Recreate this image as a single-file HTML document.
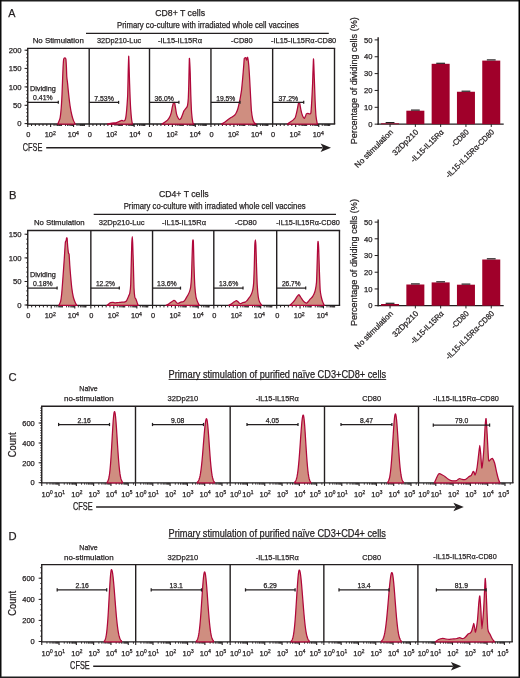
<!DOCTYPE html>
<html><head><meta charset="utf-8"><title>Figure</title>
<style>
html,body{margin:0;padding:0;background:#fff;}
body{width:520px;height:678px;overflow:hidden;}
svg{display:block;will-change:transform;}
text{font-family:"Liberation Sans", sans-serif;fill:#231f20;stroke:#231f20;stroke-width:0.25px;}
</style></head><body>
<svg width="520" height="678" viewBox="0 0 520 678">
<rect x="0" y="0" width="520" height="678" fill="#fff"/>
<line x1="0" y1="0.75" x2="520" y2="0.75" stroke="#1e1e1e" stroke-width="1.5"/>
<line x1="0.75" y1="0" x2="0.75" y2="678" stroke="#0c0c0c" stroke-width="1.5"/>
<line x1="519.25" y1="0" x2="519.25" y2="678" stroke="#000" stroke-width="1.5"/>
<line x1="0" y1="677.3" x2="520" y2="677.3" stroke="#1e1e1e" stroke-width="1.6"/>
<text x="8.3" y="17.3" font-size="11.2" textLength="7.2" lengthAdjust="spacingAndGlyphs">A</text>
<text x="155.3" y="16" font-size="9.6" textLength="49.7" lengthAdjust="spacingAndGlyphs">CD8+ T cells</text>
<text x="117" y="28.1" font-size="8.5" textLength="181.9" lengthAdjust="spacingAndGlyphs">Primary co-culture with irradiated whole cell vaccines</text>
<line x1="86" y1="33.4" x2="328.8" y2="33.4" stroke="#231f20" stroke-width="1.3"/>
<text x="32.7" y="43.2" font-size="8" textLength="51.1" lengthAdjust="spacingAndGlyphs">No Stimulation</text>
<text x="97" y="43.2" font-size="8" textLength="44.2" lengthAdjust="spacingAndGlyphs">32Dp210-Luc</text>
<text x="158" y="43.2" font-size="8" textLength="44" lengthAdjust="spacingAndGlyphs">-IL15-IL15R&#945;</text>
<text x="231" y="43.2" font-size="8" textLength="21.6" lengthAdjust="spacingAndGlyphs">-CD80</text>
<text x="271" y="43.2" font-size="8" textLength="65.2" lengthAdjust="spacingAndGlyphs">-IL15-IL15R&#945;-CD80</text>
<line x1="27.05" y1="48.4" x2="335.2" y2="48.4" stroke="#231f20" stroke-width="1.4"/>
<line x1="27.05" y1="124" x2="335.2" y2="124" stroke="#231f20" stroke-width="1.4"/>
<line x1="27.75" y1="48.4" x2="27.75" y2="124" stroke="#231f20" stroke-width="1.4"/>
<line x1="89.2" y1="48.4" x2="89.2" y2="124" stroke="#231f20" stroke-width="1.4"/>
<line x1="149.5" y1="48.4" x2="149.5" y2="124" stroke="#231f20" stroke-width="1.4"/>
<line x1="210.95" y1="48.4" x2="210.95" y2="124" stroke="#231f20" stroke-width="1.4"/>
<line x1="272.65" y1="48.4" x2="272.65" y2="124" stroke="#231f20" stroke-width="1.4"/>
<line x1="334.5" y1="48.4" x2="334.5" y2="124" stroke="#231f20" stroke-width="1.4"/>
<line x1="24.55" y1="123.6" x2="27.75" y2="123.6" stroke="#231f20" stroke-width="1"/>
<text x="21.55" y="126.35" font-size="7.7" text-anchor="end">0</text>
<line x1="24.55" y1="105.3" x2="27.75" y2="105.3" stroke="#231f20" stroke-width="1"/>
<text x="21.55" y="108.05" font-size="7.7" text-anchor="end">50</text>
<line x1="24.55" y1="86.9" x2="27.75" y2="86.9" stroke="#231f20" stroke-width="1"/>
<text x="21.55" y="89.65" font-size="7.7" text-anchor="end">100</text>
<line x1="24.55" y1="68.4" x2="27.75" y2="68.4" stroke="#231f20" stroke-width="1"/>
<text x="21.55" y="71.15" font-size="7.7" text-anchor="end">150</text>
<line x1="24.55" y1="50.2" x2="27.75" y2="50.2" stroke="#231f20" stroke-width="1"/>
<text x="21.55" y="52.95" font-size="7.7" text-anchor="end">200</text>
<line x1="26.15" y1="123.6" x2="27.75" y2="123.6" stroke="#231f20" stroke-width="0.8"/>
<line x1="26.15" y1="119.94" x2="27.75" y2="119.94" stroke="#231f20" stroke-width="0.8"/>
<line x1="26.15" y1="116.28" x2="27.75" y2="116.28" stroke="#231f20" stroke-width="0.8"/>
<line x1="26.15" y1="112.62" x2="27.75" y2="112.62" stroke="#231f20" stroke-width="0.8"/>
<line x1="26.15" y1="108.96" x2="27.75" y2="108.96" stroke="#231f20" stroke-width="0.8"/>
<line x1="26.15" y1="105.3" x2="27.75" y2="105.3" stroke="#231f20" stroke-width="0.8"/>
<line x1="26.15" y1="101.64" x2="27.75" y2="101.64" stroke="#231f20" stroke-width="0.8"/>
<line x1="26.15" y1="97.98" x2="27.75" y2="97.98" stroke="#231f20" stroke-width="0.8"/>
<line x1="26.15" y1="94.32" x2="27.75" y2="94.32" stroke="#231f20" stroke-width="0.8"/>
<line x1="26.15" y1="90.66" x2="27.75" y2="90.66" stroke="#231f20" stroke-width="0.8"/>
<line x1="26.15" y1="87" x2="27.75" y2="87" stroke="#231f20" stroke-width="0.8"/>
<line x1="26.15" y1="83.34" x2="27.75" y2="83.34" stroke="#231f20" stroke-width="0.8"/>
<line x1="26.15" y1="79.68" x2="27.75" y2="79.68" stroke="#231f20" stroke-width="0.8"/>
<line x1="26.15" y1="76.02" x2="27.75" y2="76.02" stroke="#231f20" stroke-width="0.8"/>
<line x1="26.15" y1="72.36" x2="27.75" y2="72.36" stroke="#231f20" stroke-width="0.8"/>
<line x1="26.15" y1="68.7" x2="27.75" y2="68.7" stroke="#231f20" stroke-width="0.8"/>
<line x1="26.15" y1="65.04" x2="27.75" y2="65.04" stroke="#231f20" stroke-width="0.8"/>
<line x1="26.15" y1="61.38" x2="27.75" y2="61.38" stroke="#231f20" stroke-width="0.8"/>
<line x1="26.15" y1="57.72" x2="27.75" y2="57.72" stroke="#231f20" stroke-width="0.8"/>
<line x1="26.15" y1="54.06" x2="27.75" y2="54.06" stroke="#231f20" stroke-width="0.8"/>
<line x1="26.15" y1="50.4" x2="27.75" y2="50.4" stroke="#231f20" stroke-width="0.8"/>
<line x1="27.75" y1="124" x2="27.75" y2="127" stroke="#231f20" stroke-width="1.1"/>
<line x1="50.61" y1="124" x2="50.61" y2="127" stroke="#231f20" stroke-width="1.1"/>
<line x1="73.56" y1="124" x2="73.56" y2="127" stroke="#231f20" stroke-width="1.1"/>
<line x1="31.56" y1="124" x2="31.56" y2="126" stroke="#231f20" stroke-width="1"/>
<line x1="35.37" y1="124" x2="35.37" y2="126" stroke="#231f20" stroke-width="1"/>
<line x1="39.18" y1="124" x2="39.18" y2="126" stroke="#231f20" stroke-width="1"/>
<line x1="42.99" y1="124" x2="42.99" y2="126" stroke="#231f20" stroke-width="1"/>
<line x1="46.8" y1="124" x2="46.8" y2="126" stroke="#231f20" stroke-width="1"/>
<line x1="54.06" y1="124" x2="54.06" y2="126" stroke="#231f20" stroke-width="0.9"/>
<line x1="56.08" y1="124" x2="56.08" y2="126" stroke="#231f20" stroke-width="0.9"/>
<line x1="57.52" y1="124" x2="57.52" y2="126" stroke="#231f20" stroke-width="0.9"/>
<line x1="58.63" y1="124" x2="58.63" y2="126" stroke="#231f20" stroke-width="0.9"/>
<line x1="59.54" y1="124" x2="59.54" y2="126" stroke="#231f20" stroke-width="0.9"/>
<line x1="60.31" y1="124" x2="60.31" y2="126" stroke="#231f20" stroke-width="0.9"/>
<line x1="60.97" y1="124" x2="60.97" y2="126" stroke="#231f20" stroke-width="0.9"/>
<line x1="61.56" y1="124" x2="61.56" y2="126" stroke="#231f20" stroke-width="0.9"/>
<line x1="65.54" y1="124" x2="65.54" y2="126" stroke="#231f20" stroke-width="0.9"/>
<line x1="67.56" y1="124" x2="67.56" y2="126" stroke="#231f20" stroke-width="0.9"/>
<line x1="68.99" y1="124" x2="68.99" y2="126" stroke="#231f20" stroke-width="0.9"/>
<line x1="70.11" y1="124" x2="70.11" y2="126" stroke="#231f20" stroke-width="0.9"/>
<line x1="71.02" y1="124" x2="71.02" y2="126" stroke="#231f20" stroke-width="0.9"/>
<line x1="71.78" y1="124" x2="71.78" y2="126" stroke="#231f20" stroke-width="0.9"/>
<line x1="72.45" y1="124" x2="72.45" y2="126" stroke="#231f20" stroke-width="0.9"/>
<line x1="73.04" y1="124" x2="73.04" y2="126" stroke="#231f20" stroke-width="0.9"/>
<line x1="77.02" y1="124" x2="77.02" y2="126" stroke="#231f20" stroke-width="0.9"/>
<line x1="79.04" y1="124" x2="79.04" y2="126" stroke="#231f20" stroke-width="0.9"/>
<line x1="80.47" y1="124" x2="80.47" y2="126" stroke="#231f20" stroke-width="0.9"/>
<line x1="81.58" y1="124" x2="81.58" y2="126" stroke="#231f20" stroke-width="0.9"/>
<line x1="82.49" y1="124" x2="82.49" y2="126" stroke="#231f20" stroke-width="0.9"/>
<line x1="83.26" y1="124" x2="83.26" y2="126" stroke="#231f20" stroke-width="0.9"/>
<line x1="83.93" y1="124" x2="83.93" y2="126" stroke="#231f20" stroke-width="0.9"/>
<line x1="84.51" y1="124" x2="84.51" y2="126" stroke="#231f20" stroke-width="0.9"/>
<text x="28.25" y="137.2" font-size="7.4" text-anchor="middle">0</text>
<text x="50.25" y="137.2" font-size="7.4" text-anchor="middle">10<tspan font-size="5.2" dy="-2.6">2</tspan></text>
<text x="73.35" y="137.2" font-size="7.4" text-anchor="middle">10<tspan font-size="5.2" dy="-2.6">4</tspan></text>
<line x1="89.2" y1="124" x2="89.2" y2="127" stroke="#231f20" stroke-width="1.1"/>
<line x1="111.63" y1="124" x2="111.63" y2="127" stroke="#231f20" stroke-width="1.1"/>
<line x1="134.15" y1="124" x2="134.15" y2="127" stroke="#231f20" stroke-width="1.1"/>
<line x1="92.94" y1="124" x2="92.94" y2="126" stroke="#231f20" stroke-width="1"/>
<line x1="96.68" y1="124" x2="96.68" y2="126" stroke="#231f20" stroke-width="1"/>
<line x1="100.41" y1="124" x2="100.41" y2="126" stroke="#231f20" stroke-width="1"/>
<line x1="104.15" y1="124" x2="104.15" y2="126" stroke="#231f20" stroke-width="1"/>
<line x1="107.89" y1="124" x2="107.89" y2="126" stroke="#231f20" stroke-width="1"/>
<line x1="115.02" y1="124" x2="115.02" y2="126" stroke="#231f20" stroke-width="0.9"/>
<line x1="117" y1="124" x2="117" y2="126" stroke="#231f20" stroke-width="0.9"/>
<line x1="118.41" y1="124" x2="118.41" y2="126" stroke="#231f20" stroke-width="0.9"/>
<line x1="119.5" y1="124" x2="119.5" y2="126" stroke="#231f20" stroke-width="0.9"/>
<line x1="120.39" y1="124" x2="120.39" y2="126" stroke="#231f20" stroke-width="0.9"/>
<line x1="121.15" y1="124" x2="121.15" y2="126" stroke="#231f20" stroke-width="0.9"/>
<line x1="121.8" y1="124" x2="121.8" y2="126" stroke="#231f20" stroke-width="0.9"/>
<line x1="122.38" y1="124" x2="122.38" y2="126" stroke="#231f20" stroke-width="0.9"/>
<line x1="126.28" y1="124" x2="126.28" y2="126" stroke="#231f20" stroke-width="0.9"/>
<line x1="128.27" y1="124" x2="128.27" y2="126" stroke="#231f20" stroke-width="0.9"/>
<line x1="129.67" y1="124" x2="129.67" y2="126" stroke="#231f20" stroke-width="0.9"/>
<line x1="130.76" y1="124" x2="130.76" y2="126" stroke="#231f20" stroke-width="0.9"/>
<line x1="131.66" y1="124" x2="131.66" y2="126" stroke="#231f20" stroke-width="0.9"/>
<line x1="132.41" y1="124" x2="132.41" y2="126" stroke="#231f20" stroke-width="0.9"/>
<line x1="133.06" y1="124" x2="133.06" y2="126" stroke="#231f20" stroke-width="0.9"/>
<line x1="133.64" y1="124" x2="133.64" y2="126" stroke="#231f20" stroke-width="0.9"/>
<line x1="137.55" y1="124" x2="137.55" y2="126" stroke="#231f20" stroke-width="0.9"/>
<line x1="139.53" y1="124" x2="139.53" y2="126" stroke="#231f20" stroke-width="0.9"/>
<line x1="140.94" y1="124" x2="140.94" y2="126" stroke="#231f20" stroke-width="0.9"/>
<line x1="142.03" y1="124" x2="142.03" y2="126" stroke="#231f20" stroke-width="0.9"/>
<line x1="142.92" y1="124" x2="142.92" y2="126" stroke="#231f20" stroke-width="0.9"/>
<line x1="143.67" y1="124" x2="143.67" y2="126" stroke="#231f20" stroke-width="0.9"/>
<line x1="144.33" y1="124" x2="144.33" y2="126" stroke="#231f20" stroke-width="0.9"/>
<line x1="144.9" y1="124" x2="144.9" y2="126" stroke="#231f20" stroke-width="0.9"/>
<text x="89.7" y="137.2" font-size="7.4" text-anchor="middle">0</text>
<text x="111.7" y="137.2" font-size="7.4" text-anchor="middle">10<tspan font-size="5.2" dy="-2.6">2</tspan></text>
<text x="134.8" y="137.2" font-size="7.4" text-anchor="middle">10<tspan font-size="5.2" dy="-2.6">4</tspan></text>
<line x1="149.5" y1="124" x2="149.5" y2="127" stroke="#231f20" stroke-width="1.1"/>
<line x1="172.36" y1="124" x2="172.36" y2="127" stroke="#231f20" stroke-width="1.1"/>
<line x1="195.31" y1="124" x2="195.31" y2="127" stroke="#231f20" stroke-width="1.1"/>
<line x1="153.31" y1="124" x2="153.31" y2="126" stroke="#231f20" stroke-width="1"/>
<line x1="157.12" y1="124" x2="157.12" y2="126" stroke="#231f20" stroke-width="1"/>
<line x1="160.93" y1="124" x2="160.93" y2="126" stroke="#231f20" stroke-width="1"/>
<line x1="164.74" y1="124" x2="164.74" y2="126" stroke="#231f20" stroke-width="1"/>
<line x1="168.55" y1="124" x2="168.55" y2="126" stroke="#231f20" stroke-width="1"/>
<line x1="175.81" y1="124" x2="175.81" y2="126" stroke="#231f20" stroke-width="0.9"/>
<line x1="177.83" y1="124" x2="177.83" y2="126" stroke="#231f20" stroke-width="0.9"/>
<line x1="179.27" y1="124" x2="179.27" y2="126" stroke="#231f20" stroke-width="0.9"/>
<line x1="180.38" y1="124" x2="180.38" y2="126" stroke="#231f20" stroke-width="0.9"/>
<line x1="181.29" y1="124" x2="181.29" y2="126" stroke="#231f20" stroke-width="0.9"/>
<line x1="182.06" y1="124" x2="182.06" y2="126" stroke="#231f20" stroke-width="0.9"/>
<line x1="182.72" y1="124" x2="182.72" y2="126" stroke="#231f20" stroke-width="0.9"/>
<line x1="183.31" y1="124" x2="183.31" y2="126" stroke="#231f20" stroke-width="0.9"/>
<line x1="187.29" y1="124" x2="187.29" y2="126" stroke="#231f20" stroke-width="0.9"/>
<line x1="189.31" y1="124" x2="189.31" y2="126" stroke="#231f20" stroke-width="0.9"/>
<line x1="190.74" y1="124" x2="190.74" y2="126" stroke="#231f20" stroke-width="0.9"/>
<line x1="191.86" y1="124" x2="191.86" y2="126" stroke="#231f20" stroke-width="0.9"/>
<line x1="192.77" y1="124" x2="192.77" y2="126" stroke="#231f20" stroke-width="0.9"/>
<line x1="193.53" y1="124" x2="193.53" y2="126" stroke="#231f20" stroke-width="0.9"/>
<line x1="194.2" y1="124" x2="194.2" y2="126" stroke="#231f20" stroke-width="0.9"/>
<line x1="194.79" y1="124" x2="194.79" y2="126" stroke="#231f20" stroke-width="0.9"/>
<line x1="198.77" y1="124" x2="198.77" y2="126" stroke="#231f20" stroke-width="0.9"/>
<line x1="200.79" y1="124" x2="200.79" y2="126" stroke="#231f20" stroke-width="0.9"/>
<line x1="202.22" y1="124" x2="202.22" y2="126" stroke="#231f20" stroke-width="0.9"/>
<line x1="203.33" y1="124" x2="203.33" y2="126" stroke="#231f20" stroke-width="0.9"/>
<line x1="204.24" y1="124" x2="204.24" y2="126" stroke="#231f20" stroke-width="0.9"/>
<line x1="205.01" y1="124" x2="205.01" y2="126" stroke="#231f20" stroke-width="0.9"/>
<line x1="205.68" y1="124" x2="205.68" y2="126" stroke="#231f20" stroke-width="0.9"/>
<line x1="206.26" y1="124" x2="206.26" y2="126" stroke="#231f20" stroke-width="0.9"/>
<text x="150" y="137.2" font-size="7.4" text-anchor="middle">0</text>
<text x="172" y="137.2" font-size="7.4" text-anchor="middle">10<tspan font-size="5.2" dy="-2.6">2</tspan></text>
<text x="195.1" y="137.2" font-size="7.4" text-anchor="middle">10<tspan font-size="5.2" dy="-2.6">4</tspan></text>
<line x1="210.95" y1="124" x2="210.95" y2="127" stroke="#231f20" stroke-width="1.1"/>
<line x1="233.9" y1="124" x2="233.9" y2="127" stroke="#231f20" stroke-width="1.1"/>
<line x1="256.95" y1="124" x2="256.95" y2="127" stroke="#231f20" stroke-width="1.1"/>
<line x1="214.77" y1="124" x2="214.77" y2="126" stroke="#231f20" stroke-width="1"/>
<line x1="218.6" y1="124" x2="218.6" y2="126" stroke="#231f20" stroke-width="1"/>
<line x1="222.42" y1="124" x2="222.42" y2="126" stroke="#231f20" stroke-width="1"/>
<line x1="226.25" y1="124" x2="226.25" y2="126" stroke="#231f20" stroke-width="1"/>
<line x1="230.07" y1="124" x2="230.07" y2="126" stroke="#231f20" stroke-width="1"/>
<line x1="237.37" y1="124" x2="237.37" y2="126" stroke="#231f20" stroke-width="0.9"/>
<line x1="239.4" y1="124" x2="239.4" y2="126" stroke="#231f20" stroke-width="0.9"/>
<line x1="240.84" y1="124" x2="240.84" y2="126" stroke="#231f20" stroke-width="0.9"/>
<line x1="241.95" y1="124" x2="241.95" y2="126" stroke="#231f20" stroke-width="0.9"/>
<line x1="242.87" y1="124" x2="242.87" y2="126" stroke="#231f20" stroke-width="0.9"/>
<line x1="243.64" y1="124" x2="243.64" y2="126" stroke="#231f20" stroke-width="0.9"/>
<line x1="244.31" y1="124" x2="244.31" y2="126" stroke="#231f20" stroke-width="0.9"/>
<line x1="244.9" y1="124" x2="244.9" y2="126" stroke="#231f20" stroke-width="0.9"/>
<line x1="248.89" y1="124" x2="248.89" y2="126" stroke="#231f20" stroke-width="0.9"/>
<line x1="250.92" y1="124" x2="250.92" y2="126" stroke="#231f20" stroke-width="0.9"/>
<line x1="252.36" y1="124" x2="252.36" y2="126" stroke="#231f20" stroke-width="0.9"/>
<line x1="253.48" y1="124" x2="253.48" y2="126" stroke="#231f20" stroke-width="0.9"/>
<line x1="254.39" y1="124" x2="254.39" y2="126" stroke="#231f20" stroke-width="0.9"/>
<line x1="255.16" y1="124" x2="255.16" y2="126" stroke="#231f20" stroke-width="0.9"/>
<line x1="255.83" y1="124" x2="255.83" y2="126" stroke="#231f20" stroke-width="0.9"/>
<line x1="256.42" y1="124" x2="256.42" y2="126" stroke="#231f20" stroke-width="0.9"/>
<line x1="260.42" y1="124" x2="260.42" y2="126" stroke="#231f20" stroke-width="0.9"/>
<line x1="262.45" y1="124" x2="262.45" y2="126" stroke="#231f20" stroke-width="0.9"/>
<line x1="263.89" y1="124" x2="263.89" y2="126" stroke="#231f20" stroke-width="0.9"/>
<line x1="265" y1="124" x2="265" y2="126" stroke="#231f20" stroke-width="0.9"/>
<line x1="265.92" y1="124" x2="265.92" y2="126" stroke="#231f20" stroke-width="0.9"/>
<line x1="266.69" y1="124" x2="266.69" y2="126" stroke="#231f20" stroke-width="0.9"/>
<line x1="267.36" y1="124" x2="267.36" y2="126" stroke="#231f20" stroke-width="0.9"/>
<line x1="267.95" y1="124" x2="267.95" y2="126" stroke="#231f20" stroke-width="0.9"/>
<text x="211.45" y="137.2" font-size="7.4" text-anchor="middle">0</text>
<text x="233.45" y="137.2" font-size="7.4" text-anchor="middle">10<tspan font-size="5.2" dy="-2.6">2</tspan></text>
<text x="256.55" y="137.2" font-size="7.4" text-anchor="middle">10<tspan font-size="5.2" dy="-2.6">4</tspan></text>
<line x1="272.65" y1="124" x2="272.65" y2="127" stroke="#231f20" stroke-width="1.1"/>
<line x1="295.65" y1="124" x2="295.65" y2="127" stroke="#231f20" stroke-width="1.1"/>
<line x1="318.76" y1="124" x2="318.76" y2="127" stroke="#231f20" stroke-width="1.1"/>
<line x1="276.48" y1="124" x2="276.48" y2="126" stroke="#231f20" stroke-width="1"/>
<line x1="280.32" y1="124" x2="280.32" y2="126" stroke="#231f20" stroke-width="1"/>
<line x1="284.15" y1="124" x2="284.15" y2="126" stroke="#231f20" stroke-width="1"/>
<line x1="287.99" y1="124" x2="287.99" y2="126" stroke="#231f20" stroke-width="1"/>
<line x1="291.82" y1="124" x2="291.82" y2="126" stroke="#231f20" stroke-width="1"/>
<line x1="299.13" y1="124" x2="299.13" y2="126" stroke="#231f20" stroke-width="0.9"/>
<line x1="301.17" y1="124" x2="301.17" y2="126" stroke="#231f20" stroke-width="0.9"/>
<line x1="302.61" y1="124" x2="302.61" y2="126" stroke="#231f20" stroke-width="0.9"/>
<line x1="303.73" y1="124" x2="303.73" y2="126" stroke="#231f20" stroke-width="0.9"/>
<line x1="304.64" y1="124" x2="304.64" y2="126" stroke="#231f20" stroke-width="0.9"/>
<line x1="305.42" y1="124" x2="305.42" y2="126" stroke="#231f20" stroke-width="0.9"/>
<line x1="306.09" y1="124" x2="306.09" y2="126" stroke="#231f20" stroke-width="0.9"/>
<line x1="306.68" y1="124" x2="306.68" y2="126" stroke="#231f20" stroke-width="0.9"/>
<line x1="310.69" y1="124" x2="310.69" y2="126" stroke="#231f20" stroke-width="0.9"/>
<line x1="312.72" y1="124" x2="312.72" y2="126" stroke="#231f20" stroke-width="0.9"/>
<line x1="314.16" y1="124" x2="314.16" y2="126" stroke="#231f20" stroke-width="0.9"/>
<line x1="315.28" y1="124" x2="315.28" y2="126" stroke="#231f20" stroke-width="0.9"/>
<line x1="316.2" y1="124" x2="316.2" y2="126" stroke="#231f20" stroke-width="0.9"/>
<line x1="316.97" y1="124" x2="316.97" y2="126" stroke="#231f20" stroke-width="0.9"/>
<line x1="317.64" y1="124" x2="317.64" y2="126" stroke="#231f20" stroke-width="0.9"/>
<line x1="318.23" y1="124" x2="318.23" y2="126" stroke="#231f20" stroke-width="0.9"/>
<line x1="322.24" y1="124" x2="322.24" y2="126" stroke="#231f20" stroke-width="0.9"/>
<line x1="324.27" y1="124" x2="324.27" y2="126" stroke="#231f20" stroke-width="0.9"/>
<line x1="325.72" y1="124" x2="325.72" y2="126" stroke="#231f20" stroke-width="0.9"/>
<line x1="326.84" y1="124" x2="326.84" y2="126" stroke="#231f20" stroke-width="0.9"/>
<line x1="327.75" y1="124" x2="327.75" y2="126" stroke="#231f20" stroke-width="0.9"/>
<line x1="328.52" y1="124" x2="328.52" y2="126" stroke="#231f20" stroke-width="0.9"/>
<line x1="329.19" y1="124" x2="329.19" y2="126" stroke="#231f20" stroke-width="0.9"/>
<line x1="329.78" y1="124" x2="329.78" y2="126" stroke="#231f20" stroke-width="0.9"/>
<text x="273.15" y="137.2" font-size="7.4" text-anchor="middle">0</text>
<text x="295.15" y="137.2" font-size="7.4" text-anchor="middle">10<tspan font-size="5.2" dy="-2.6">2</tspan></text>
<text x="318.25" y="137.2" font-size="7.4" text-anchor="middle">10<tspan font-size="5.2" dy="-2.6">4</tspan></text>
<path d="M57.8,124 L57.8,124 C58.02,123.44 59.66,119.97 60,118.4 C60.34,116.83 61,110.66 61.2,108.3 C61.4,105.94 61.86,97.72 62,94.8 C62.14,91.88 62.49,81.9 62.6,79.1 C62.71,76.3 62.99,68.81 63.1,66.8 C63.21,64.79 63.52,59.9 63.7,59 C63.88,58.1 64.68,57.8 64.9,57.8 C65.12,57.8 65.75,58.1 65.9,59 C66.05,59.9 66.31,65.01 66.4,66.8 C66.49,68.59 66.68,75.22 66.8,76.9 C66.92,78.58 67.41,81.81 67.6,83.6 C67.79,85.39 68.45,92.56 68.7,94.8 C68.95,97.04 69.79,103.98 70.1,106 C70.41,108.02 71.46,113.54 71.8,115 C72.14,116.46 73.16,119.7 73.5,120.6 C73.84,121.5 75.03,123.66 75.2,124 L75.2,124 Z" fill="#cf8e80" stroke="#b0073a" stroke-width="1.25" stroke-linejoin="round"/>
<path d="M107.4,124 L107.4,124 C107.86,123.9 111.24,123.11 112,123 C112.76,122.89 114.48,122.97 115,122.9 C115.52,122.83 116.7,122.47 117.2,122.3 C117.7,122.13 119.55,121.39 120,121.2 C120.45,121.01 121.35,120.42 121.7,120.4 C122.05,120.38 123.16,121.04 123.5,121 C123.84,120.96 124.85,120.49 125.1,120 C125.35,119.51 125.83,117.27 126,116.1 C126.17,114.93 126.63,110.43 126.8,108.3 C126.97,106.17 127.56,98.43 127.7,94.8 C127.84,91.17 128.1,75.86 128.2,72 C128.3,68.14 128.6,56.4 128.7,56.2 C128.8,56 129.11,67.26 129.2,70 C129.29,72.74 129.5,80.6 129.6,83.6 C129.7,86.6 130.09,97.42 130.2,100 C130.31,102.58 130.56,107.45 130.7,109.4 C130.84,111.35 131.43,118.04 131.6,119.5 C131.77,120.96 132.32,123.55 132.4,124 L132.4,124 Z" fill="#cf8e80" stroke="#b0073a" stroke-width="1.25" stroke-linejoin="round"/>
<path d="M161.9,124 L161.9,124 C162.18,123.83 164.14,122.69 164.7,122.3 C165.26,121.91 166.99,120.66 167.5,120.1 C168.01,119.54 169.43,117.43 169.8,116.7 C170.17,115.97 170.95,113.75 171.2,112.8 C171.45,111.85 172.07,108.21 172.3,107.2 C172.53,106.19 173.27,103.15 173.5,102.7 C173.73,102.25 174.41,102.25 174.6,102.7 C174.79,103.15 175.21,106.08 175.4,107.2 C175.59,108.32 176.24,112.84 176.5,113.9 C176.76,114.96 177.7,117.24 178,117.8 C178.3,118.36 179.2,119.44 179.5,119.5 C179.8,119.56 180.71,118.85 181,118.4 C181.29,117.95 182.12,115.73 182.4,115 C182.68,114.27 183.49,111.71 183.8,111.1 C184.11,110.49 185.14,109.41 185.5,108.9 C185.86,108.39 187.12,107.07 187.4,106 C187.68,104.93 188.16,100.44 188.3,98.2 C188.44,95.96 188.69,87.58 188.8,83.6 C188.91,79.62 189.26,59.52 189.4,58.4 C189.54,57.28 190.06,68.76 190.2,72.4 C190.34,76.04 190.66,90.76 190.8,94.8 C190.94,98.84 191.4,110.05 191.6,112.8 C191.8,115.55 192.57,121.18 192.8,122.3 C193.03,123.42 193.79,123.83 193.9,124 L193.9,124 Z" fill="#cf8e80" stroke="#b0073a" stroke-width="1.25" stroke-linejoin="round"/>
<path d="M221.4,124 L221.4,124 C221.73,123.83 224.03,122.75 224.7,122.3 C225.37,121.85 227.42,120 228.1,119.5 C228.78,119 230.83,117.75 231.5,117.3 C232.17,116.85 234.3,115.51 234.8,115 C235.3,114.49 236.18,112.87 236.5,112.2 C236.82,111.53 237.72,109.25 238,108.3 C238.28,107.35 239.06,103.82 239.3,102.7 C239.54,101.58 240.18,98.33 240.4,97.1 C240.62,95.87 241.27,92.31 241.5,90.4 C241.73,88.49 242.47,80.58 242.7,78 C242.93,75.42 243.64,66.56 243.8,64.6 C243.96,62.64 244.1,59.08 244.3,58.4 C244.5,57.72 245.57,57.63 245.8,57.8 C246.03,57.97 246.44,60.15 246.6,60.1 C246.76,60.05 247.26,57.41 247.4,57.3 C247.54,57.19 247.86,58.16 248,59 C248.14,59.84 248.64,63.8 248.8,65.7 C248.96,67.6 249.43,75.09 249.6,78 C249.77,80.91 250.32,91.55 250.5,94.8 C250.68,98.05 251.17,108.03 251.4,110.5 C251.63,112.97 252.5,118.26 252.8,119.5 C253.1,120.74 254.07,122.45 254.4,122.9 C254.73,123.35 255.93,123.89 256.1,124 L256.1,124 Z" fill="#cf8e80" stroke="#b0073a" stroke-width="1.25" stroke-linejoin="round"/>
<path d="M287.4,124 L287.4,124 C287.73,123.77 290.14,122.09 290.7,121.7 C291.26,121.31 292.55,120.49 293,120.1 C293.45,119.71 294.87,118.42 295.2,117.8 C295.53,117.18 296.07,114.85 296.3,113.9 C296.53,112.95 297.27,109.42 297.5,108.3 C297.73,107.18 298.38,103.2 298.6,102.7 C298.82,102.2 299.48,102.63 299.7,103.3 C299.92,103.97 300.58,108.34 300.8,109.4 C301.02,110.46 301.65,113.11 301.9,113.9 C302.15,114.69 303.05,116.85 303.3,117.3 C303.55,117.75 304.18,118.52 304.4,118.4 C304.62,118.28 305.3,116.55 305.5,116.1 C305.7,115.65 306.17,114.18 306.4,113.9 C306.63,113.62 307.48,113.3 307.8,113.3 C308.12,113.3 309.29,113.95 309.6,113.9 C309.91,113.85 310.68,114.15 310.9,112.8 C311.12,111.45 311.63,103.32 311.8,100.4 C311.97,97.48 312.43,87.74 312.6,83.6 C312.77,79.46 313.33,59.56 313.5,59 C313.67,58.44 314.14,73.86 314.3,78 C314.46,82.14 314.93,96.59 315.1,100.4 C315.27,104.21 315.8,113.85 316,116.1 C316.2,118.35 316.94,122.11 317.1,122.9 C317.26,123.69 317.55,123.89 317.6,124 L317.6,124 Z" fill="#cf8e80" stroke="#b0073a" stroke-width="1.25" stroke-linejoin="round"/>
<text x="42.85" y="91.3" font-size="7.4" text-anchor="middle" textLength="25.9" lengthAdjust="spacingAndGlyphs">Dividing</text>
<text x="42.9" y="100.4" font-size="7.5" text-anchor="middle" textLength="19.6" lengthAdjust="spacingAndGlyphs">0.41%</text>
<line x1="27.75" y1="102.35" x2="58.3" y2="102.35" stroke="#231f20" stroke-width="1.25"/>
<line x1="58.3" y1="100.85" x2="58.3" y2="103.85" stroke="#231f20" stroke-width="1.25"/>
<line x1="89.2" y1="102.35" x2="118.6" y2="102.35" stroke="#231f20" stroke-width="1.25"/>
<line x1="118.6" y1="100.85" x2="118.6" y2="103.85" stroke="#231f20" stroke-width="1.25"/>
<line x1="149.5" y1="102.35" x2="178.9" y2="102.35" stroke="#231f20" stroke-width="1.25"/>
<line x1="178.9" y1="100.85" x2="178.9" y2="103.85" stroke="#231f20" stroke-width="1.25"/>
<line x1="210.95" y1="102.35" x2="240" y2="102.35" stroke="#231f20" stroke-width="1.25"/>
<line x1="240" y1="100.85" x2="240" y2="103.85" stroke="#231f20" stroke-width="1.25"/>
<line x1="272.65" y1="102.35" x2="303.7" y2="102.35" stroke="#231f20" stroke-width="1.25"/>
<line x1="303.7" y1="100.85" x2="303.7" y2="103.85" stroke="#231f20" stroke-width="1.25"/>
<text x="94.2" y="100.6" font-size="7.5" textLength="19.7" lengthAdjust="spacingAndGlyphs">7.53%</text>
<text x="154.5" y="100.6" font-size="7.5" textLength="19.4" lengthAdjust="spacingAndGlyphs">36.0%</text>
<text x="216.2" y="100.6" font-size="7.5" textLength="19.1" lengthAdjust="spacingAndGlyphs">19.5%</text>
<text x="278.5" y="100.6" font-size="7.5" textLength="19.7" lengthAdjust="spacingAndGlyphs">37.2%</text>
<text x="22.8" y="151" font-size="10.3" textLength="19.6" lengthAdjust="spacingAndGlyphs">CFSE</text>
<line x1="46.2" y1="147.8" x2="322.6" y2="147.8" stroke="#231f20" stroke-width="1.5"/>
<path d="M331,147.8 L320.6,143.6 L323,147.8 L320.6,152 Z" fill="#231f20"/>
<text x="9" y="198.7" font-size="11.2">B</text>
<text x="158.9" y="197.2" font-size="9.6" textLength="49.8" lengthAdjust="spacingAndGlyphs">CD4+ T cells</text>
<text x="123.7" y="208.9" font-size="8.5" textLength="181.9" lengthAdjust="spacingAndGlyphs">Primary co-culture with irradiated whole cell vaccines</text>
<line x1="93.7" y1="214.3" x2="336" y2="214.3" stroke="#231f20" stroke-width="1.3"/>
<text x="33.9" y="225.3" font-size="8" textLength="50.7" lengthAdjust="spacingAndGlyphs">No Stimulation</text>
<text x="98.7" y="225.3" font-size="8" textLength="46" lengthAdjust="spacingAndGlyphs">32Dp210-Luc</text>
<text x="162" y="225.3" font-size="8" textLength="44" lengthAdjust="spacingAndGlyphs">-IL15-IL15R&#945;</text>
<text x="234.7" y="225.3" font-size="8" textLength="22.1" lengthAdjust="spacingAndGlyphs">-CD80</text>
<text x="276.2" y="225.3" font-size="8" textLength="63.7" lengthAdjust="spacingAndGlyphs">-IL15-IL15R&#945;-CD80</text>
<line x1="27.05" y1="230.5" x2="340.15" y2="230.5" stroke="#231f20" stroke-width="1.4"/>
<line x1="27.05" y1="305.4" x2="340.15" y2="305.4" stroke="#231f20" stroke-width="1.4"/>
<line x1="27.75" y1="230.5" x2="27.75" y2="305.4" stroke="#231f20" stroke-width="1.4"/>
<line x1="90.85" y1="230.5" x2="90.85" y2="305.4" stroke="#231f20" stroke-width="1.4"/>
<line x1="152.55" y1="230.5" x2="152.55" y2="305.4" stroke="#231f20" stroke-width="1.4"/>
<line x1="213.8" y1="230.5" x2="213.8" y2="305.4" stroke="#231f20" stroke-width="1.4"/>
<line x1="276.7" y1="230.5" x2="276.7" y2="305.4" stroke="#231f20" stroke-width="1.4"/>
<line x1="339.45" y1="230.5" x2="339.45" y2="305.4" stroke="#231f20" stroke-width="1.4"/>
<line x1="24.55" y1="305" x2="27.75" y2="305" stroke="#231f20" stroke-width="1"/>
<text x="21.55" y="307.75" font-size="7.7" text-anchor="end">0</text>
<line x1="24.55" y1="281.5" x2="27.75" y2="281.5" stroke="#231f20" stroke-width="1"/>
<text x="21.55" y="284.25" font-size="7.7" text-anchor="end">50</text>
<line x1="24.55" y1="257.9" x2="27.75" y2="257.9" stroke="#231f20" stroke-width="1"/>
<text x="21.55" y="260.65" font-size="7.7" text-anchor="end">100</text>
<line x1="24.55" y1="234.2" x2="27.75" y2="234.2" stroke="#231f20" stroke-width="1"/>
<text x="21.55" y="236.95" font-size="7.7" text-anchor="end">150</text>
<line x1="26.15" y1="305" x2="27.75" y2="305" stroke="#231f20" stroke-width="0.8"/>
<line x1="26.15" y1="300.3" x2="27.75" y2="300.3" stroke="#231f20" stroke-width="0.8"/>
<line x1="26.15" y1="295.6" x2="27.75" y2="295.6" stroke="#231f20" stroke-width="0.8"/>
<line x1="26.15" y1="290.9" x2="27.75" y2="290.9" stroke="#231f20" stroke-width="0.8"/>
<line x1="26.15" y1="286.2" x2="27.75" y2="286.2" stroke="#231f20" stroke-width="0.8"/>
<line x1="26.15" y1="281.5" x2="27.75" y2="281.5" stroke="#231f20" stroke-width="0.8"/>
<line x1="26.15" y1="276.8" x2="27.75" y2="276.8" stroke="#231f20" stroke-width="0.8"/>
<line x1="26.15" y1="272.1" x2="27.75" y2="272.1" stroke="#231f20" stroke-width="0.8"/>
<line x1="26.15" y1="267.4" x2="27.75" y2="267.4" stroke="#231f20" stroke-width="0.8"/>
<line x1="26.15" y1="262.7" x2="27.75" y2="262.7" stroke="#231f20" stroke-width="0.8"/>
<line x1="26.15" y1="258" x2="27.75" y2="258" stroke="#231f20" stroke-width="0.8"/>
<line x1="26.15" y1="253.3" x2="27.75" y2="253.3" stroke="#231f20" stroke-width="0.8"/>
<line x1="26.15" y1="248.6" x2="27.75" y2="248.6" stroke="#231f20" stroke-width="0.8"/>
<line x1="26.15" y1="243.9" x2="27.75" y2="243.9" stroke="#231f20" stroke-width="0.8"/>
<line x1="26.15" y1="239.2" x2="27.75" y2="239.2" stroke="#231f20" stroke-width="0.8"/>
<line x1="26.15" y1="234.5" x2="27.75" y2="234.5" stroke="#231f20" stroke-width="0.8"/>
<line x1="27.75" y1="305.4" x2="27.75" y2="308.4" stroke="#231f20" stroke-width="1.1"/>
<line x1="51.22" y1="305.4" x2="51.22" y2="308.4" stroke="#231f20" stroke-width="1.1"/>
<line x1="74.79" y1="305.4" x2="74.79" y2="308.4" stroke="#231f20" stroke-width="1.1"/>
<line x1="31.66" y1="305.4" x2="31.66" y2="307.4" stroke="#231f20" stroke-width="1"/>
<line x1="35.57" y1="305.4" x2="35.57" y2="307.4" stroke="#231f20" stroke-width="1"/>
<line x1="39.48" y1="305.4" x2="39.48" y2="307.4" stroke="#231f20" stroke-width="1"/>
<line x1="43.4" y1="305.4" x2="43.4" y2="307.4" stroke="#231f20" stroke-width="1"/>
<line x1="47.31" y1="305.4" x2="47.31" y2="307.4" stroke="#231f20" stroke-width="1"/>
<line x1="54.77" y1="305.4" x2="54.77" y2="307.4" stroke="#231f20" stroke-width="0.9"/>
<line x1="56.84" y1="305.4" x2="56.84" y2="307.4" stroke="#231f20" stroke-width="0.9"/>
<line x1="58.32" y1="305.4" x2="58.32" y2="307.4" stroke="#231f20" stroke-width="0.9"/>
<line x1="59.46" y1="305.4" x2="59.46" y2="307.4" stroke="#231f20" stroke-width="0.9"/>
<line x1="60.39" y1="305.4" x2="60.39" y2="307.4" stroke="#231f20" stroke-width="0.9"/>
<line x1="61.18" y1="305.4" x2="61.18" y2="307.4" stroke="#231f20" stroke-width="0.9"/>
<line x1="61.86" y1="305.4" x2="61.86" y2="307.4" stroke="#231f20" stroke-width="0.9"/>
<line x1="62.47" y1="305.4" x2="62.47" y2="307.4" stroke="#231f20" stroke-width="0.9"/>
<line x1="66.55" y1="305.4" x2="66.55" y2="307.4" stroke="#231f20" stroke-width="0.9"/>
<line x1="68.63" y1="305.4" x2="68.63" y2="307.4" stroke="#231f20" stroke-width="0.9"/>
<line x1="70.1" y1="305.4" x2="70.1" y2="307.4" stroke="#231f20" stroke-width="0.9"/>
<line x1="71.24" y1="305.4" x2="71.24" y2="307.4" stroke="#231f20" stroke-width="0.9"/>
<line x1="72.18" y1="305.4" x2="72.18" y2="307.4" stroke="#231f20" stroke-width="0.9"/>
<line x1="72.97" y1="305.4" x2="72.97" y2="307.4" stroke="#231f20" stroke-width="0.9"/>
<line x1="73.65" y1="305.4" x2="73.65" y2="307.4" stroke="#231f20" stroke-width="0.9"/>
<line x1="74.25" y1="305.4" x2="74.25" y2="307.4" stroke="#231f20" stroke-width="0.9"/>
<line x1="78.34" y1="305.4" x2="78.34" y2="307.4" stroke="#231f20" stroke-width="0.9"/>
<line x1="80.42" y1="305.4" x2="80.42" y2="307.4" stroke="#231f20" stroke-width="0.9"/>
<line x1="81.89" y1="305.4" x2="81.89" y2="307.4" stroke="#231f20" stroke-width="0.9"/>
<line x1="83.03" y1="305.4" x2="83.03" y2="307.4" stroke="#231f20" stroke-width="0.9"/>
<line x1="83.96" y1="305.4" x2="83.96" y2="307.4" stroke="#231f20" stroke-width="0.9"/>
<line x1="84.75" y1="305.4" x2="84.75" y2="307.4" stroke="#231f20" stroke-width="0.9"/>
<line x1="85.44" y1="305.4" x2="85.44" y2="307.4" stroke="#231f20" stroke-width="0.9"/>
<line x1="86.04" y1="305.4" x2="86.04" y2="307.4" stroke="#231f20" stroke-width="0.9"/>
<text x="28.25" y="318.3" font-size="7.4" text-anchor="middle">0</text>
<text x="50.25" y="318.3" font-size="7.4" text-anchor="middle">10<tspan font-size="5.2" dy="-2.6">2</tspan></text>
<text x="73.35" y="318.3" font-size="7.4" text-anchor="middle">10<tspan font-size="5.2" dy="-2.6">4</tspan></text>
<line x1="90.85" y1="305.4" x2="90.85" y2="308.4" stroke="#231f20" stroke-width="1.1"/>
<line x1="113.8" y1="305.4" x2="113.8" y2="308.4" stroke="#231f20" stroke-width="1.1"/>
<line x1="136.85" y1="305.4" x2="136.85" y2="308.4" stroke="#231f20" stroke-width="1.1"/>
<line x1="94.67" y1="305.4" x2="94.67" y2="307.4" stroke="#231f20" stroke-width="1"/>
<line x1="98.5" y1="305.4" x2="98.5" y2="307.4" stroke="#231f20" stroke-width="1"/>
<line x1="102.32" y1="305.4" x2="102.32" y2="307.4" stroke="#231f20" stroke-width="1"/>
<line x1="106.15" y1="305.4" x2="106.15" y2="307.4" stroke="#231f20" stroke-width="1"/>
<line x1="109.97" y1="305.4" x2="109.97" y2="307.4" stroke="#231f20" stroke-width="1"/>
<line x1="117.27" y1="305.4" x2="117.27" y2="307.4" stroke="#231f20" stroke-width="0.9"/>
<line x1="119.3" y1="305.4" x2="119.3" y2="307.4" stroke="#231f20" stroke-width="0.9"/>
<line x1="120.74" y1="305.4" x2="120.74" y2="307.4" stroke="#231f20" stroke-width="0.9"/>
<line x1="121.85" y1="305.4" x2="121.85" y2="307.4" stroke="#231f20" stroke-width="0.9"/>
<line x1="122.77" y1="305.4" x2="122.77" y2="307.4" stroke="#231f20" stroke-width="0.9"/>
<line x1="123.54" y1="305.4" x2="123.54" y2="307.4" stroke="#231f20" stroke-width="0.9"/>
<line x1="124.21" y1="305.4" x2="124.21" y2="307.4" stroke="#231f20" stroke-width="0.9"/>
<line x1="124.8" y1="305.4" x2="124.8" y2="307.4" stroke="#231f20" stroke-width="0.9"/>
<line x1="128.79" y1="305.4" x2="128.79" y2="307.4" stroke="#231f20" stroke-width="0.9"/>
<line x1="130.82" y1="305.4" x2="130.82" y2="307.4" stroke="#231f20" stroke-width="0.9"/>
<line x1="132.26" y1="305.4" x2="132.26" y2="307.4" stroke="#231f20" stroke-width="0.9"/>
<line x1="133.38" y1="305.4" x2="133.38" y2="307.4" stroke="#231f20" stroke-width="0.9"/>
<line x1="134.29" y1="305.4" x2="134.29" y2="307.4" stroke="#231f20" stroke-width="0.9"/>
<line x1="135.06" y1="305.4" x2="135.06" y2="307.4" stroke="#231f20" stroke-width="0.9"/>
<line x1="135.73" y1="305.4" x2="135.73" y2="307.4" stroke="#231f20" stroke-width="0.9"/>
<line x1="136.32" y1="305.4" x2="136.32" y2="307.4" stroke="#231f20" stroke-width="0.9"/>
<line x1="140.32" y1="305.4" x2="140.32" y2="307.4" stroke="#231f20" stroke-width="0.9"/>
<line x1="142.35" y1="305.4" x2="142.35" y2="307.4" stroke="#231f20" stroke-width="0.9"/>
<line x1="143.79" y1="305.4" x2="143.79" y2="307.4" stroke="#231f20" stroke-width="0.9"/>
<line x1="144.9" y1="305.4" x2="144.9" y2="307.4" stroke="#231f20" stroke-width="0.9"/>
<line x1="145.82" y1="305.4" x2="145.82" y2="307.4" stroke="#231f20" stroke-width="0.9"/>
<line x1="146.59" y1="305.4" x2="146.59" y2="307.4" stroke="#231f20" stroke-width="0.9"/>
<line x1="147.26" y1="305.4" x2="147.26" y2="307.4" stroke="#231f20" stroke-width="0.9"/>
<line x1="147.85" y1="305.4" x2="147.85" y2="307.4" stroke="#231f20" stroke-width="0.9"/>
<text x="91.35" y="318.3" font-size="7.4" text-anchor="middle">0</text>
<text x="113.35" y="318.3" font-size="7.4" text-anchor="middle">10<tspan font-size="5.2" dy="-2.6">2</tspan></text>
<text x="136.45" y="318.3" font-size="7.4" text-anchor="middle">10<tspan font-size="5.2" dy="-2.6">4</tspan></text>
<line x1="152.55" y1="305.4" x2="152.55" y2="308.4" stroke="#231f20" stroke-width="1.1"/>
<line x1="175.33" y1="305.4" x2="175.33" y2="308.4" stroke="#231f20" stroke-width="1.1"/>
<line x1="198.21" y1="305.4" x2="198.21" y2="308.4" stroke="#231f20" stroke-width="1.1"/>
<line x1="156.35" y1="305.4" x2="156.35" y2="307.4" stroke="#231f20" stroke-width="1"/>
<line x1="160.14" y1="305.4" x2="160.14" y2="307.4" stroke="#231f20" stroke-width="1"/>
<line x1="163.94" y1="305.4" x2="163.94" y2="307.4" stroke="#231f20" stroke-width="1"/>
<line x1="167.74" y1="305.4" x2="167.74" y2="307.4" stroke="#231f20" stroke-width="1"/>
<line x1="171.53" y1="305.4" x2="171.53" y2="307.4" stroke="#231f20" stroke-width="1"/>
<line x1="178.78" y1="305.4" x2="178.78" y2="307.4" stroke="#231f20" stroke-width="0.9"/>
<line x1="180.79" y1="305.4" x2="180.79" y2="307.4" stroke="#231f20" stroke-width="0.9"/>
<line x1="182.22" y1="305.4" x2="182.22" y2="307.4" stroke="#231f20" stroke-width="0.9"/>
<line x1="183.33" y1="305.4" x2="183.33" y2="307.4" stroke="#231f20" stroke-width="0.9"/>
<line x1="184.23" y1="305.4" x2="184.23" y2="307.4" stroke="#231f20" stroke-width="0.9"/>
<line x1="185" y1="305.4" x2="185" y2="307.4" stroke="#231f20" stroke-width="0.9"/>
<line x1="185.66" y1="305.4" x2="185.66" y2="307.4" stroke="#231f20" stroke-width="0.9"/>
<line x1="186.25" y1="305.4" x2="186.25" y2="307.4" stroke="#231f20" stroke-width="0.9"/>
<line x1="190.22" y1="305.4" x2="190.22" y2="307.4" stroke="#231f20" stroke-width="0.9"/>
<line x1="192.23" y1="305.4" x2="192.23" y2="307.4" stroke="#231f20" stroke-width="0.9"/>
<line x1="193.66" y1="305.4" x2="193.66" y2="307.4" stroke="#231f20" stroke-width="0.9"/>
<line x1="194.77" y1="305.4" x2="194.77" y2="307.4" stroke="#231f20" stroke-width="0.9"/>
<line x1="195.67" y1="305.4" x2="195.67" y2="307.4" stroke="#231f20" stroke-width="0.9"/>
<line x1="196.44" y1="305.4" x2="196.44" y2="307.4" stroke="#231f20" stroke-width="0.9"/>
<line x1="197.1" y1="305.4" x2="197.1" y2="307.4" stroke="#231f20" stroke-width="0.9"/>
<line x1="197.69" y1="305.4" x2="197.69" y2="307.4" stroke="#231f20" stroke-width="0.9"/>
<line x1="201.66" y1="305.4" x2="201.66" y2="307.4" stroke="#231f20" stroke-width="0.9"/>
<line x1="203.67" y1="305.4" x2="203.67" y2="307.4" stroke="#231f20" stroke-width="0.9"/>
<line x1="205.1" y1="305.4" x2="205.1" y2="307.4" stroke="#231f20" stroke-width="0.9"/>
<line x1="206.21" y1="305.4" x2="206.21" y2="307.4" stroke="#231f20" stroke-width="0.9"/>
<line x1="207.12" y1="305.4" x2="207.12" y2="307.4" stroke="#231f20" stroke-width="0.9"/>
<line x1="207.88" y1="305.4" x2="207.88" y2="307.4" stroke="#231f20" stroke-width="0.9"/>
<line x1="208.54" y1="305.4" x2="208.54" y2="307.4" stroke="#231f20" stroke-width="0.9"/>
<line x1="209.13" y1="305.4" x2="209.13" y2="307.4" stroke="#231f20" stroke-width="0.9"/>
<text x="153.05" y="318.3" font-size="7.4" text-anchor="middle">0</text>
<text x="175.05" y="318.3" font-size="7.4" text-anchor="middle">10<tspan font-size="5.2" dy="-2.6">2</tspan></text>
<text x="198.15" y="318.3" font-size="7.4" text-anchor="middle">10<tspan font-size="5.2" dy="-2.6">4</tspan></text>
<line x1="213.8" y1="305.4" x2="213.8" y2="308.4" stroke="#231f20" stroke-width="1.1"/>
<line x1="237.2" y1="305.4" x2="237.2" y2="308.4" stroke="#231f20" stroke-width="1.1"/>
<line x1="260.69" y1="305.4" x2="260.69" y2="308.4" stroke="#231f20" stroke-width="1.1"/>
<line x1="217.7" y1="305.4" x2="217.7" y2="307.4" stroke="#231f20" stroke-width="1"/>
<line x1="221.6" y1="305.4" x2="221.6" y2="307.4" stroke="#231f20" stroke-width="1"/>
<line x1="225.5" y1="305.4" x2="225.5" y2="307.4" stroke="#231f20" stroke-width="1"/>
<line x1="229.4" y1="305.4" x2="229.4" y2="307.4" stroke="#231f20" stroke-width="1"/>
<line x1="233.3" y1="305.4" x2="233.3" y2="307.4" stroke="#231f20" stroke-width="1"/>
<line x1="240.73" y1="305.4" x2="240.73" y2="307.4" stroke="#231f20" stroke-width="0.9"/>
<line x1="242.8" y1="305.4" x2="242.8" y2="307.4" stroke="#231f20" stroke-width="0.9"/>
<line x1="244.27" y1="305.4" x2="244.27" y2="307.4" stroke="#231f20" stroke-width="0.9"/>
<line x1="245.41" y1="305.4" x2="245.41" y2="307.4" stroke="#231f20" stroke-width="0.9"/>
<line x1="246.34" y1="305.4" x2="246.34" y2="307.4" stroke="#231f20" stroke-width="0.9"/>
<line x1="247.12" y1="305.4" x2="247.12" y2="307.4" stroke="#231f20" stroke-width="0.9"/>
<line x1="247.81" y1="305.4" x2="247.81" y2="307.4" stroke="#231f20" stroke-width="0.9"/>
<line x1="248.41" y1="305.4" x2="248.41" y2="307.4" stroke="#231f20" stroke-width="0.9"/>
<line x1="252.48" y1="305.4" x2="252.48" y2="307.4" stroke="#231f20" stroke-width="0.9"/>
<line x1="254.55" y1="305.4" x2="254.55" y2="307.4" stroke="#231f20" stroke-width="0.9"/>
<line x1="256.02" y1="305.4" x2="256.02" y2="307.4" stroke="#231f20" stroke-width="0.9"/>
<line x1="257.16" y1="305.4" x2="257.16" y2="307.4" stroke="#231f20" stroke-width="0.9"/>
<line x1="258.09" y1="305.4" x2="258.09" y2="307.4" stroke="#231f20" stroke-width="0.9"/>
<line x1="258.87" y1="305.4" x2="258.87" y2="307.4" stroke="#231f20" stroke-width="0.9"/>
<line x1="259.55" y1="305.4" x2="259.55" y2="307.4" stroke="#231f20" stroke-width="0.9"/>
<line x1="260.16" y1="305.4" x2="260.16" y2="307.4" stroke="#231f20" stroke-width="0.9"/>
<line x1="264.23" y1="305.4" x2="264.23" y2="307.4" stroke="#231f20" stroke-width="0.9"/>
<line x1="266.3" y1="305.4" x2="266.3" y2="307.4" stroke="#231f20" stroke-width="0.9"/>
<line x1="267.77" y1="305.4" x2="267.77" y2="307.4" stroke="#231f20" stroke-width="0.9"/>
<line x1="268.9" y1="305.4" x2="268.9" y2="307.4" stroke="#231f20" stroke-width="0.9"/>
<line x1="269.84" y1="305.4" x2="269.84" y2="307.4" stroke="#231f20" stroke-width="0.9"/>
<line x1="270.62" y1="305.4" x2="270.62" y2="307.4" stroke="#231f20" stroke-width="0.9"/>
<line x1="271.3" y1="305.4" x2="271.3" y2="307.4" stroke="#231f20" stroke-width="0.9"/>
<line x1="271.9" y1="305.4" x2="271.9" y2="307.4" stroke="#231f20" stroke-width="0.9"/>
<text x="214.3" y="318.3" font-size="7.4" text-anchor="middle">0</text>
<text x="236.3" y="318.3" font-size="7.4" text-anchor="middle">10<tspan font-size="5.2" dy="-2.6">2</tspan></text>
<text x="259.4" y="318.3" font-size="7.4" text-anchor="middle">10<tspan font-size="5.2" dy="-2.6">4</tspan></text>
<line x1="276.7" y1="305.4" x2="276.7" y2="308.4" stroke="#231f20" stroke-width="1.1"/>
<line x1="300.04" y1="305.4" x2="300.04" y2="308.4" stroke="#231f20" stroke-width="1.1"/>
<line x1="323.48" y1="305.4" x2="323.48" y2="308.4" stroke="#231f20" stroke-width="1.1"/>
<line x1="280.59" y1="305.4" x2="280.59" y2="307.4" stroke="#231f20" stroke-width="1"/>
<line x1="284.48" y1="305.4" x2="284.48" y2="307.4" stroke="#231f20" stroke-width="1"/>
<line x1="288.37" y1="305.4" x2="288.37" y2="307.4" stroke="#231f20" stroke-width="1"/>
<line x1="292.26" y1="305.4" x2="292.26" y2="307.4" stroke="#231f20" stroke-width="1"/>
<line x1="296.15" y1="305.4" x2="296.15" y2="307.4" stroke="#231f20" stroke-width="1"/>
<line x1="303.57" y1="305.4" x2="303.57" y2="307.4" stroke="#231f20" stroke-width="0.9"/>
<line x1="305.63" y1="305.4" x2="305.63" y2="307.4" stroke="#231f20" stroke-width="0.9"/>
<line x1="307.1" y1="305.4" x2="307.1" y2="307.4" stroke="#231f20" stroke-width="0.9"/>
<line x1="308.23" y1="305.4" x2="308.23" y2="307.4" stroke="#231f20" stroke-width="0.9"/>
<line x1="309.16" y1="305.4" x2="309.16" y2="307.4" stroke="#231f20" stroke-width="0.9"/>
<line x1="309.94" y1="305.4" x2="309.94" y2="307.4" stroke="#231f20" stroke-width="0.9"/>
<line x1="310.62" y1="305.4" x2="310.62" y2="307.4" stroke="#231f20" stroke-width="0.9"/>
<line x1="311.22" y1="305.4" x2="311.22" y2="307.4" stroke="#231f20" stroke-width="0.9"/>
<line x1="315.29" y1="305.4" x2="315.29" y2="307.4" stroke="#231f20" stroke-width="0.9"/>
<line x1="317.35" y1="305.4" x2="317.35" y2="307.4" stroke="#231f20" stroke-width="0.9"/>
<line x1="318.82" y1="305.4" x2="318.82" y2="307.4" stroke="#231f20" stroke-width="0.9"/>
<line x1="319.95" y1="305.4" x2="319.95" y2="307.4" stroke="#231f20" stroke-width="0.9"/>
<line x1="320.88" y1="305.4" x2="320.88" y2="307.4" stroke="#231f20" stroke-width="0.9"/>
<line x1="321.67" y1="305.4" x2="321.67" y2="307.4" stroke="#231f20" stroke-width="0.9"/>
<line x1="322.35" y1="305.4" x2="322.35" y2="307.4" stroke="#231f20" stroke-width="0.9"/>
<line x1="322.94" y1="305.4" x2="322.94" y2="307.4" stroke="#231f20" stroke-width="0.9"/>
<line x1="327.01" y1="305.4" x2="327.01" y2="307.4" stroke="#231f20" stroke-width="0.9"/>
<line x1="329.07" y1="305.4" x2="329.07" y2="307.4" stroke="#231f20" stroke-width="0.9"/>
<line x1="330.54" y1="305.4" x2="330.54" y2="307.4" stroke="#231f20" stroke-width="0.9"/>
<line x1="331.67" y1="305.4" x2="331.67" y2="307.4" stroke="#231f20" stroke-width="0.9"/>
<line x1="332.6" y1="305.4" x2="332.6" y2="307.4" stroke="#231f20" stroke-width="0.9"/>
<line x1="333.39" y1="305.4" x2="333.39" y2="307.4" stroke="#231f20" stroke-width="0.9"/>
<line x1="334.07" y1="305.4" x2="334.07" y2="307.4" stroke="#231f20" stroke-width="0.9"/>
<line x1="334.67" y1="305.4" x2="334.67" y2="307.4" stroke="#231f20" stroke-width="0.9"/>
<text x="277.2" y="318.3" font-size="7.4" text-anchor="middle">0</text>
<text x="299.2" y="318.3" font-size="7.4" text-anchor="middle">10<tspan font-size="5.2" dy="-2.6">2</tspan></text>
<text x="322.3" y="318.3" font-size="7.4" text-anchor="middle">10<tspan font-size="5.2" dy="-2.6">4</tspan></text>
<path d="M58.9,305.4 L58.9,305.4 C59.07,305.01 60.32,302.67 60.6,301.5 C60.88,300.33 61.5,295.61 61.7,293.7 C61.9,291.79 62.43,284.65 62.6,282.4 C62.77,280.15 63.24,273.44 63.4,271.2 C63.56,268.96 64.05,262.24 64.2,260 C64.35,257.76 64.78,250.59 64.9,248.8 C65.02,247.01 65.27,242.94 65.4,242.1 C65.53,241.26 66.09,240.79 66.2,240.4 C66.31,240.01 66.41,238.42 66.5,238.2 C66.59,237.98 66.98,237.36 67.1,238.2 C67.22,239.04 67.56,245.09 67.7,246.6 C67.84,248.11 68.36,252.52 68.5,253.3 C68.64,254.08 68.97,253.17 69.1,254.4 C69.23,255.63 69.64,263.36 69.8,265.6 C69.96,267.84 70.5,274.55 70.7,276.8 C70.9,279.05 71.54,286.08 71.8,288.1 C72.06,290.12 72.96,295.55 73.3,297 C73.64,298.45 74.84,301.76 75.2,302.6 C75.56,303.44 76.73,305.12 76.9,305.4 L76.9,305.4 Z" fill="#cf8e80" stroke="#b0073a" stroke-width="1.25" stroke-linejoin="round"/>
<path d="M106.8,305.4 L106.8,305.4 C107.02,305.23 108.61,303.98 109,303.7 C109.39,303.42 110.3,302.73 110.7,302.6 C111.1,302.47 112.55,302.37 113,302.4 C113.45,302.43 114.75,302.88 115.2,302.9 C115.65,302.92 117.05,302.65 117.5,302.6 C117.95,302.55 119.26,302.45 119.7,302.4 C120.14,302.35 121.45,302.13 121.9,302.1 C122.35,302.07 123.75,302.21 124.2,302.1 C124.65,301.99 126.07,301.34 126.4,301 C126.73,300.66 127.27,299.21 127.5,298.7 C127.73,298.19 128.47,296.46 128.7,295.9 C128.93,295.34 129.6,294.22 129.8,293.1 C130,291.98 130.56,287.45 130.7,284.7 C130.84,281.95 131.09,269.75 131.2,265.6 C131.31,261.45 131.69,246.11 131.8,243.2 C131.91,240.29 132.21,236.5 132.3,236.5 C132.39,236.5 132.59,240.29 132.7,243.2 C132.81,246.11 133.27,261.11 133.4,265.6 C133.53,270.09 133.86,284.96 134,288.1 C134.14,291.24 134.6,295.88 134.8,297 C135,298.12 135.77,298.74 136,299.3 C136.23,299.86 136.88,301.99 137.1,302.6 C137.32,303.21 138.09,305.12 138.2,305.4 L138.2,305.4 Z" fill="#cf8e80" stroke="#b0073a" stroke-width="1.25" stroke-linejoin="round"/>
<path d="M166.2,305.4 L166.2,305.4 C166.48,305.23 168.49,304.03 169,303.7 C169.51,303.37 170.81,302.43 171.3,302.1 C171.79,301.77 173.51,300.52 173.9,300.4 C174.29,300.28 174.9,300.65 175.2,300.9 C175.5,301.15 176.56,302.67 176.9,302.9 C177.24,303.13 178.21,303.28 178.6,303.2 C178.99,303.12 180.35,302.25 180.8,302.1 C181.25,301.95 182.71,301.87 183.1,301.7 C183.49,301.53 184.37,300.81 184.7,300.4 C185.03,299.99 186.06,298.16 186.4,297.6 C186.74,297.04 187.78,295.42 188.1,294.8 C188.42,294.18 189.34,292.19 189.6,291.4 C189.86,290.61 190.51,288.36 190.7,286.9 C190.89,285.44 191.37,279.49 191.5,276.8 C191.63,274.11 191.89,263.47 192,260 C192.11,256.53 192.51,244.12 192.6,242.1 C192.69,240.08 192.82,239.8 192.9,239.8 C192.98,239.8 193.29,239.52 193.4,242.1 C193.51,244.68 193.86,261.23 194,265.6 C194.14,269.97 194.6,282.66 194.8,285.8 C195,288.94 195.74,295.43 196,297 C196.26,298.57 197.07,300.66 197.4,301.5 C197.73,302.34 199.11,305.01 199.3,305.4 L199.3,305.4 Z" fill="#cf8e80" stroke="#b0073a" stroke-width="1.25" stroke-linejoin="round"/>
<path d="M228.8,305.4 L228.8,305.4 C229.08,305.23 231.1,304.03 231.6,303.7 C232.1,303.37 233.33,302.41 233.8,302.1 C234.27,301.79 235.9,300.66 236.3,300.6 C236.7,300.54 237.48,301.24 237.8,301.5 C238.12,301.76 239.17,303 239.5,303.2 C239.83,303.4 240.77,303.56 241.1,303.5 C241.43,303.44 242.4,302.74 242.8,302.6 C243.2,302.46 244.71,302.27 245.1,302.1 C245.49,301.93 246.37,301.24 246.7,300.9 C247.03,300.56 248.06,299.14 248.4,298.7 C248.74,298.26 249.76,297.06 250.1,296.5 C250.44,295.94 251.52,293.83 251.8,293.1 C252.08,292.37 252.71,290.27 252.9,289.2 C253.09,288.13 253.56,284.76 253.7,282.4 C253.84,280.04 254.19,269.29 254.3,265.6 C254.41,261.91 254.69,248.08 254.8,245.5 C254.91,242.92 255.29,239.8 255.4,239.8 C255.51,239.8 255.79,242.92 255.9,245.5 C256.01,248.08 256.37,261.68 256.5,265.6 C256.63,269.52 257.02,281.56 257.2,284.7 C257.38,287.84 258.06,295.26 258.3,297 C258.54,298.74 259.26,301.26 259.6,302.1 C259.94,302.94 261.49,305.07 261.7,305.4 L261.7,305.4 Z" fill="#cf8e80" stroke="#b0073a" stroke-width="1.25" stroke-linejoin="round"/>
<path d="M289.9,305.4 L289.9,305.4 C290.18,305.12 292.19,303.16 292.7,302.6 C293.21,302.04 294.55,300.42 295,299.8 C295.45,299.18 296.81,296.91 297.2,296.4 C297.59,295.89 298.56,294.64 298.9,294.7 C299.24,294.76 300.21,296.44 300.6,297 C300.99,297.56 302.36,299.74 302.8,300.3 C303.24,300.86 304.61,302.32 305,302.6 C305.39,302.88 306.36,303.22 306.7,303.1 C307.04,302.98 308.06,301.79 308.4,301.4 C308.74,301.01 309.71,299.64 310.1,299.2 C310.49,298.76 311.91,297.51 312.3,297 C312.69,296.49 313.7,294.78 314,294.1 C314.3,293.42 315.05,291.37 315.3,290.2 C315.55,289.03 316.32,284.86 316.5,282.4 C316.68,279.94 316.98,269.3 317.1,265.6 C317.22,261.9 317.6,247.81 317.7,245.4 C317.8,242.99 318,241.16 318.1,241.5 C318.2,241.84 318.57,245.83 318.7,248.8 C318.83,251.77 319.25,267.06 319.4,271.2 C319.55,275.34 320.01,287.62 320.2,290.2 C320.39,292.78 321.05,295.82 321.3,297 C321.55,298.18 322.4,301.16 322.7,302 C323,302.84 324.14,305.06 324.3,305.4 L324.3,305.4 Z" fill="#cf8e80" stroke="#b0073a" stroke-width="1.25" stroke-linejoin="round"/>
<text x="42.85" y="276.9" font-size="7.4" text-anchor="middle" textLength="25.9" lengthAdjust="spacingAndGlyphs">Dividing</text>
<text x="42.9" y="286" font-size="7.5" text-anchor="middle" textLength="19.6" lengthAdjust="spacingAndGlyphs">0.18%</text>
<line x1="27.75" y1="288.1" x2="57.1" y2="288.1" stroke="#231f20" stroke-width="1.25"/>
<line x1="57.1" y1="286.6" x2="57.1" y2="289.6" stroke="#231f20" stroke-width="1.25"/>
<line x1="90.85" y1="288.1" x2="119.3" y2="288.1" stroke="#231f20" stroke-width="1.25"/>
<line x1="119.3" y1="286.6" x2="119.3" y2="289.6" stroke="#231f20" stroke-width="1.25"/>
<line x1="152.55" y1="288.1" x2="180.5" y2="288.1" stroke="#231f20" stroke-width="1.25"/>
<line x1="180.5" y1="286.6" x2="180.5" y2="289.6" stroke="#231f20" stroke-width="1.25"/>
<line x1="213.8" y1="288.1" x2="243" y2="288.1" stroke="#231f20" stroke-width="1.25"/>
<line x1="243" y1="286.6" x2="243" y2="289.6" stroke="#231f20" stroke-width="1.25"/>
<line x1="276.7" y1="288.1" x2="305.7" y2="288.1" stroke="#231f20" stroke-width="1.25"/>
<line x1="305.7" y1="286.6" x2="305.7" y2="289.6" stroke="#231f20" stroke-width="1.25"/>
<text x="95.9" y="285.8" font-size="7.5" textLength="19" lengthAdjust="spacingAndGlyphs">12.2%</text>
<text x="157.1" y="285.8" font-size="7.5" textLength="19.7" lengthAdjust="spacingAndGlyphs">13.6%</text>
<text x="218.9" y="285.8" font-size="7.5" textLength="19.3" lengthAdjust="spacingAndGlyphs">13.6%</text>
<text x="281.9" y="285.8" font-size="7.5" textLength="18.7" lengthAdjust="spacingAndGlyphs">26.7%</text>
<line x1="378.15" y1="37.3" x2="378.15" y2="124.85" stroke="#231f20" stroke-width="1.4"/>
<line x1="377.45" y1="124.15" x2="503.7" y2="124.15" stroke="#231f20" stroke-width="1.4"/>
<line x1="374.65" y1="124.15" x2="378.15" y2="124.15" stroke="#231f20" stroke-width="1"/>
<text x="372.4" y="126.85" font-size="7.6" text-anchor="end">0</text>
<line x1="374.65" y1="107.3" x2="378.15" y2="107.3" stroke="#231f20" stroke-width="1"/>
<text x="372.4" y="110" font-size="7.6" text-anchor="end">10</text>
<line x1="374.65" y1="90.45" x2="378.15" y2="90.45" stroke="#231f20" stroke-width="1"/>
<text x="372.4" y="93.15" font-size="7.6" text-anchor="end">20</text>
<line x1="374.65" y1="73.6" x2="378.15" y2="73.6" stroke="#231f20" stroke-width="1"/>
<text x="372.4" y="76.3" font-size="7.6" text-anchor="end">30</text>
<line x1="374.65" y1="56.75" x2="378.15" y2="56.75" stroke="#231f20" stroke-width="1"/>
<text x="372.4" y="59.45" font-size="7.6" text-anchor="end">40</text>
<line x1="374.65" y1="39.9" x2="378.15" y2="39.9" stroke="#231f20" stroke-width="1"/>
<text x="372.4" y="42.6" font-size="7.6" text-anchor="end">50</text>
<rect x="381.05" y="123.3" width="18" height="0.85" fill="#a0002a"/>
<line x1="385.65" y1="122.6" x2="394.45" y2="122.6" stroke="#231f20" stroke-width="1.2"/>
<line x1="390.05" y1="124.15" x2="390.05" y2="126.95" stroke="#231f20" stroke-width="1"/>
<rect x="406.35" y="110.7" width="18" height="13.45" fill="#a0002a"/>
<line x1="410.95" y1="110.1" x2="419.75" y2="110.1" stroke="#231f20" stroke-width="1.2"/>
<line x1="415.35" y1="124.15" x2="415.35" y2="126.95" stroke="#231f20" stroke-width="1"/>
<rect x="431.65" y="63.8" width="18" height="60.35" fill="#a0002a"/>
<line x1="436.25" y1="63.3" x2="445.05" y2="63.3" stroke="#231f20" stroke-width="1.2"/>
<line x1="440.65" y1="124.15" x2="440.65" y2="126.95" stroke="#231f20" stroke-width="1"/>
<rect x="456.95" y="91.75" width="18" height="32.4" fill="#a0002a"/>
<line x1="461.55" y1="91.2" x2="470.35" y2="91.2" stroke="#231f20" stroke-width="1.2"/>
<line x1="465.95" y1="124.15" x2="465.95" y2="126.95" stroke="#231f20" stroke-width="1"/>
<rect x="482.25" y="60.6" width="18" height="63.55" fill="#a0002a"/>
<line x1="486.85" y1="59.9" x2="495.65" y2="59.9" stroke="#231f20" stroke-width="1.2"/>
<line x1="491.25" y1="124.15" x2="491.25" y2="126.95" stroke="#231f20" stroke-width="1"/>
<text x="0" y="0" font-size="8" text-anchor="end" textLength="50.5" lengthAdjust="spacingAndGlyphs" transform="translate(393.55,132.65) rotate(-45)">No stimulation</text>
<text x="0" y="0" font-size="8" text-anchor="end" textLength="33" lengthAdjust="spacingAndGlyphs" transform="translate(418.85,132.65) rotate(-45)">32Dp210</text>
<text x="0" y="0" font-size="8" text-anchor="end" textLength="43" lengthAdjust="spacingAndGlyphs" transform="translate(444.15,132.65) rotate(-45)">-IL15-IL15R&#945;</text>
<text x="0" y="0" font-size="8" text-anchor="end" textLength="21.5" lengthAdjust="spacingAndGlyphs" transform="translate(469.45,132.65) rotate(-45)">-CD80</text>
<text x="0" y="0" font-size="8" text-anchor="end" textLength="65" lengthAdjust="spacingAndGlyphs" transform="translate(494.75,132.65) rotate(-45)">-IL15-IL15R&#945;-CD80</text>
<text x="0" y="0" font-size="9.6" text-anchor="middle" textLength="127" lengthAdjust="spacingAndGlyphs" transform="translate(356.8,80.72) rotate(-90)">Percentage of dividing cells (%)</text>
<line x1="378.15" y1="219.5" x2="378.15" y2="306.35" stroke="#231f20" stroke-width="1.4"/>
<line x1="377.45" y1="305.65" x2="503.7" y2="305.65" stroke="#231f20" stroke-width="1.4"/>
<line x1="374.65" y1="305.65" x2="378.15" y2="305.65" stroke="#231f20" stroke-width="1"/>
<text x="372.4" y="308.35" font-size="7.6" text-anchor="end">0</text>
<line x1="374.65" y1="288.94" x2="378.15" y2="288.94" stroke="#231f20" stroke-width="1"/>
<text x="372.4" y="291.64" font-size="7.6" text-anchor="end">10</text>
<line x1="374.65" y1="272.23" x2="378.15" y2="272.23" stroke="#231f20" stroke-width="1"/>
<text x="372.4" y="274.93" font-size="7.6" text-anchor="end">20</text>
<line x1="374.65" y1="255.52" x2="378.15" y2="255.52" stroke="#231f20" stroke-width="1"/>
<text x="372.4" y="258.22" font-size="7.6" text-anchor="end">30</text>
<line x1="374.65" y1="238.81" x2="378.15" y2="238.81" stroke="#231f20" stroke-width="1"/>
<text x="372.4" y="241.51" font-size="7.6" text-anchor="end">40</text>
<line x1="374.65" y1="222.1" x2="378.15" y2="222.1" stroke="#231f20" stroke-width="1"/>
<text x="372.4" y="224.8" font-size="7.6" text-anchor="end">50</text>
<rect x="381.05" y="304" width="18" height="1.65" fill="#a0002a"/>
<line x1="385.65" y1="303.3" x2="394.45" y2="303.3" stroke="#231f20" stroke-width="1.2"/>
<line x1="390.05" y1="305.65" x2="390.05" y2="308.45" stroke="#231f20" stroke-width="1"/>
<rect x="406.35" y="284.5" width="18" height="21.15" fill="#a0002a"/>
<line x1="410.95" y1="283.9" x2="419.75" y2="283.9" stroke="#231f20" stroke-width="1.2"/>
<line x1="415.35" y1="305.65" x2="415.35" y2="308.45" stroke="#231f20" stroke-width="1"/>
<rect x="431.65" y="282.4" width="18" height="23.25" fill="#a0002a"/>
<line x1="436.25" y1="281.8" x2="445.05" y2="281.8" stroke="#231f20" stroke-width="1.2"/>
<line x1="440.65" y1="305.65" x2="440.65" y2="308.45" stroke="#231f20" stroke-width="1"/>
<rect x="456.95" y="284.7" width="18" height="20.95" fill="#a0002a"/>
<line x1="461.55" y1="284.1" x2="470.35" y2="284.1" stroke="#231f20" stroke-width="1.2"/>
<line x1="465.95" y1="305.65" x2="465.95" y2="308.45" stroke="#231f20" stroke-width="1"/>
<rect x="482.25" y="259.5" width="18" height="46.15" fill="#a0002a"/>
<line x1="486.85" y1="258.8" x2="495.65" y2="258.8" stroke="#231f20" stroke-width="1.2"/>
<line x1="491.25" y1="305.65" x2="491.25" y2="308.45" stroke="#231f20" stroke-width="1"/>
<text x="0" y="0" font-size="8" text-anchor="end" textLength="50.5" lengthAdjust="spacingAndGlyphs" transform="translate(393.55,314.15) rotate(-45)">No stimulation</text>
<text x="0" y="0" font-size="8" text-anchor="end" textLength="33" lengthAdjust="spacingAndGlyphs" transform="translate(418.85,314.15) rotate(-45)">32Dp210</text>
<text x="0" y="0" font-size="8" text-anchor="end" textLength="43" lengthAdjust="spacingAndGlyphs" transform="translate(444.15,314.15) rotate(-45)">-IL15-IL15R&#945;</text>
<text x="0" y="0" font-size="8" text-anchor="end" textLength="21.5" lengthAdjust="spacingAndGlyphs" transform="translate(469.45,314.15) rotate(-45)">-CD80</text>
<text x="0" y="0" font-size="8" text-anchor="end" textLength="65" lengthAdjust="spacingAndGlyphs" transform="translate(494.75,314.15) rotate(-45)">-IL15-IL15R&#945;-CD80</text>
<text x="0" y="0" font-size="9.6" text-anchor="middle" textLength="127" lengthAdjust="spacingAndGlyphs" transform="translate(356.8,262.57) rotate(-90)">Percentage of dividing cells (%)</text>
<text x="8.5" y="380.5" font-size="11.2">C</text>
<text x="168.6" y="377.9" font-size="10.4" textLength="217.6" lengthAdjust="spacingAndGlyphs">Primary stimulation of purified na&#239;ve CD3+CD8+ cells</text>
<line x1="168.6" y1="379.5" x2="386.2" y2="379.5" stroke="#231f20" stroke-width="0.9"/>
<text x="88.5" y="391.1" font-size="7.6" text-anchor="middle" textLength="18.3" lengthAdjust="spacingAndGlyphs">Na&#239;ve</text>
<text x="64" y="400.9" font-size="7.9" textLength="49.6" lengthAdjust="spacingAndGlyphs">no-stimulation</text>
<text x="167.5" y="400.7" font-size="7.9" textLength="30.8" lengthAdjust="spacingAndGlyphs">32Dp210</text>
<text x="255.7" y="400.7" font-size="7.9" textLength="43.1" lengthAdjust="spacingAndGlyphs">-IL15-IL15R&#945;</text>
<text x="362.2" y="400.7" font-size="7.9" textLength="18.9" lengthAdjust="spacingAndGlyphs">CD80</text>
<text x="433" y="400.7" font-size="7.9" textLength="65.8" lengthAdjust="spacingAndGlyphs">-IL15-IL15R&#945;&#8211;CD80</text>
<line x1="41.05" y1="406.2" x2="513.5" y2="406.2" stroke="#231f20" stroke-width="1.4"/>
<line x1="41.05" y1="482.9" x2="513.5" y2="482.9" stroke="#231f20" stroke-width="1.4"/>
<line x1="41.75" y1="406.2" x2="41.75" y2="482.9" stroke="#231f20" stroke-width="1.4"/>
<line x1="135.5" y1="406.2" x2="135.5" y2="482.9" stroke="#231f20" stroke-width="1.4"/>
<line x1="230.17" y1="406.2" x2="230.17" y2="482.9" stroke="#231f20" stroke-width="1.4"/>
<line x1="324.5" y1="406.2" x2="324.5" y2="482.9" stroke="#231f20" stroke-width="1.4"/>
<line x1="418.5" y1="406.2" x2="418.5" y2="482.9" stroke="#231f20" stroke-width="1.4"/>
<line x1="512.8" y1="406.2" x2="512.8" y2="482.9" stroke="#231f20" stroke-width="1.4"/>
<line x1="38.65" y1="482.7" x2="41.75" y2="482.7" stroke="#231f20" stroke-width="1"/>
<text x="34.75" y="485.4" font-size="7.5" text-anchor="end">0</text>
<line x1="38.65" y1="462.8" x2="41.75" y2="462.8" stroke="#231f20" stroke-width="1"/>
<text x="34.75" y="465.5" font-size="7.5" text-anchor="end">200</text>
<line x1="38.65" y1="443" x2="41.75" y2="443" stroke="#231f20" stroke-width="1"/>
<text x="34.75" y="445.7" font-size="7.5" text-anchor="end">400</text>
<line x1="38.65" y1="423" x2="41.75" y2="423" stroke="#231f20" stroke-width="1"/>
<text x="34.75" y="425.7" font-size="7.5" text-anchor="end">600</text>
<line x1="40.15" y1="482.7" x2="41.75" y2="482.7" stroke="#231f20" stroke-width="0.8"/>
<line x1="40.15" y1="480.21" x2="41.75" y2="480.21" stroke="#231f20" stroke-width="0.8"/>
<line x1="40.15" y1="477.72" x2="41.75" y2="477.72" stroke="#231f20" stroke-width="0.8"/>
<line x1="40.15" y1="475.24" x2="41.75" y2="475.24" stroke="#231f20" stroke-width="0.8"/>
<line x1="40.15" y1="472.75" x2="41.75" y2="472.75" stroke="#231f20" stroke-width="0.8"/>
<line x1="40.15" y1="470.26" x2="41.75" y2="470.26" stroke="#231f20" stroke-width="0.8"/>
<line x1="40.15" y1="467.77" x2="41.75" y2="467.77" stroke="#231f20" stroke-width="0.8"/>
<line x1="40.15" y1="465.29" x2="41.75" y2="465.29" stroke="#231f20" stroke-width="0.8"/>
<line x1="40.15" y1="462.8" x2="41.75" y2="462.8" stroke="#231f20" stroke-width="0.8"/>
<line x1="40.15" y1="460.31" x2="41.75" y2="460.31" stroke="#231f20" stroke-width="0.8"/>
<line x1="40.15" y1="457.82" x2="41.75" y2="457.82" stroke="#231f20" stroke-width="0.8"/>
<line x1="40.15" y1="455.34" x2="41.75" y2="455.34" stroke="#231f20" stroke-width="0.8"/>
<line x1="40.15" y1="452.85" x2="41.75" y2="452.85" stroke="#231f20" stroke-width="0.8"/>
<line x1="40.15" y1="450.36" x2="41.75" y2="450.36" stroke="#231f20" stroke-width="0.8"/>
<line x1="40.15" y1="447.87" x2="41.75" y2="447.87" stroke="#231f20" stroke-width="0.8"/>
<line x1="40.15" y1="445.39" x2="41.75" y2="445.39" stroke="#231f20" stroke-width="0.8"/>
<line x1="40.15" y1="442.9" x2="41.75" y2="442.9" stroke="#231f20" stroke-width="0.8"/>
<line x1="40.15" y1="440.41" x2="41.75" y2="440.41" stroke="#231f20" stroke-width="0.8"/>
<line x1="40.15" y1="437.92" x2="41.75" y2="437.92" stroke="#231f20" stroke-width="0.8"/>
<line x1="40.15" y1="435.44" x2="41.75" y2="435.44" stroke="#231f20" stroke-width="0.8"/>
<line x1="40.15" y1="432.95" x2="41.75" y2="432.95" stroke="#231f20" stroke-width="0.8"/>
<line x1="40.15" y1="430.46" x2="41.75" y2="430.46" stroke="#231f20" stroke-width="0.8"/>
<line x1="40.15" y1="427.97" x2="41.75" y2="427.97" stroke="#231f20" stroke-width="0.8"/>
<line x1="40.15" y1="425.49" x2="41.75" y2="425.49" stroke="#231f20" stroke-width="0.8"/>
<line x1="40.15" y1="423" x2="41.75" y2="423" stroke="#231f20" stroke-width="0.8"/>
<line x1="40.15" y1="420.51" x2="41.75" y2="420.51" stroke="#231f20" stroke-width="0.8"/>
<line x1="40.15" y1="418.02" x2="41.75" y2="418.02" stroke="#231f20" stroke-width="0.8"/>
<line x1="40.15" y1="415.54" x2="41.75" y2="415.54" stroke="#231f20" stroke-width="0.8"/>
<line x1="40.15" y1="413.05" x2="41.75" y2="413.05" stroke="#231f20" stroke-width="0.8"/>
<line x1="40.15" y1="410.56" x2="41.75" y2="410.56" stroke="#231f20" stroke-width="0.8"/>
<line x1="40.15" y1="408.07" x2="41.75" y2="408.07" stroke="#231f20" stroke-width="0.8"/>
<line x1="41.75" y1="482.9" x2="41.75" y2="485.9" stroke="#231f20" stroke-width="1.1"/>
<line x1="46.96" y1="482.9" x2="46.96" y2="484.7" stroke="#231f20" stroke-width="0.9"/>
<line x1="50" y1="482.9" x2="50" y2="484.7" stroke="#231f20" stroke-width="0.9"/>
<line x1="52.17" y1="482.9" x2="52.17" y2="484.7" stroke="#231f20" stroke-width="0.9"/>
<line x1="53.84" y1="482.9" x2="53.84" y2="484.7" stroke="#231f20" stroke-width="0.9"/>
<line x1="55.21" y1="482.9" x2="55.21" y2="484.7" stroke="#231f20" stroke-width="0.9"/>
<line x1="56.37" y1="482.9" x2="56.37" y2="484.7" stroke="#231f20" stroke-width="0.9"/>
<line x1="57.37" y1="482.9" x2="57.37" y2="484.7" stroke="#231f20" stroke-width="0.9"/>
<line x1="58.26" y1="482.9" x2="58.26" y2="484.7" stroke="#231f20" stroke-width="0.9"/>
<line x1="59.05" y1="482.9" x2="59.05" y2="485.9" stroke="#231f20" stroke-width="1.1"/>
<line x1="64.26" y1="482.9" x2="64.26" y2="484.7" stroke="#231f20" stroke-width="0.9"/>
<line x1="67.3" y1="482.9" x2="67.3" y2="484.7" stroke="#231f20" stroke-width="0.9"/>
<line x1="69.47" y1="482.9" x2="69.47" y2="484.7" stroke="#231f20" stroke-width="0.9"/>
<line x1="71.14" y1="482.9" x2="71.14" y2="484.7" stroke="#231f20" stroke-width="0.9"/>
<line x1="72.51" y1="482.9" x2="72.51" y2="484.7" stroke="#231f20" stroke-width="0.9"/>
<line x1="73.67" y1="482.9" x2="73.67" y2="484.7" stroke="#231f20" stroke-width="0.9"/>
<line x1="74.67" y1="482.9" x2="74.67" y2="484.7" stroke="#231f20" stroke-width="0.9"/>
<line x1="75.56" y1="482.9" x2="75.56" y2="484.7" stroke="#231f20" stroke-width="0.9"/>
<line x1="76.35" y1="482.9" x2="76.35" y2="485.9" stroke="#231f20" stroke-width="1.1"/>
<line x1="81.56" y1="482.9" x2="81.56" y2="484.7" stroke="#231f20" stroke-width="0.9"/>
<line x1="84.6" y1="482.9" x2="84.6" y2="484.7" stroke="#231f20" stroke-width="0.9"/>
<line x1="86.77" y1="482.9" x2="86.77" y2="484.7" stroke="#231f20" stroke-width="0.9"/>
<line x1="88.44" y1="482.9" x2="88.44" y2="484.7" stroke="#231f20" stroke-width="0.9"/>
<line x1="89.81" y1="482.9" x2="89.81" y2="484.7" stroke="#231f20" stroke-width="0.9"/>
<line x1="90.97" y1="482.9" x2="90.97" y2="484.7" stroke="#231f20" stroke-width="0.9"/>
<line x1="91.97" y1="482.9" x2="91.97" y2="484.7" stroke="#231f20" stroke-width="0.9"/>
<line x1="92.86" y1="482.9" x2="92.86" y2="484.7" stroke="#231f20" stroke-width="0.9"/>
<line x1="93.65" y1="482.9" x2="93.65" y2="485.9" stroke="#231f20" stroke-width="1.1"/>
<line x1="98.86" y1="482.9" x2="98.86" y2="484.7" stroke="#231f20" stroke-width="0.9"/>
<line x1="101.9" y1="482.9" x2="101.9" y2="484.7" stroke="#231f20" stroke-width="0.9"/>
<line x1="104.07" y1="482.9" x2="104.07" y2="484.7" stroke="#231f20" stroke-width="0.9"/>
<line x1="105.74" y1="482.9" x2="105.74" y2="484.7" stroke="#231f20" stroke-width="0.9"/>
<line x1="107.11" y1="482.9" x2="107.11" y2="484.7" stroke="#231f20" stroke-width="0.9"/>
<line x1="108.27" y1="482.9" x2="108.27" y2="484.7" stroke="#231f20" stroke-width="0.9"/>
<line x1="109.27" y1="482.9" x2="109.27" y2="484.7" stroke="#231f20" stroke-width="0.9"/>
<line x1="110.16" y1="482.9" x2="110.16" y2="484.7" stroke="#231f20" stroke-width="0.9"/>
<line x1="110.95" y1="482.9" x2="110.95" y2="485.9" stroke="#231f20" stroke-width="1.1"/>
<line x1="116.16" y1="482.9" x2="116.16" y2="484.7" stroke="#231f20" stroke-width="0.9"/>
<line x1="119.2" y1="482.9" x2="119.2" y2="484.7" stroke="#231f20" stroke-width="0.9"/>
<line x1="121.37" y1="482.9" x2="121.37" y2="484.7" stroke="#231f20" stroke-width="0.9"/>
<line x1="123.04" y1="482.9" x2="123.04" y2="484.7" stroke="#231f20" stroke-width="0.9"/>
<line x1="124.41" y1="482.9" x2="124.41" y2="484.7" stroke="#231f20" stroke-width="0.9"/>
<line x1="125.57" y1="482.9" x2="125.57" y2="484.7" stroke="#231f20" stroke-width="0.9"/>
<line x1="126.57" y1="482.9" x2="126.57" y2="484.7" stroke="#231f20" stroke-width="0.9"/>
<line x1="127.46" y1="482.9" x2="127.46" y2="484.7" stroke="#231f20" stroke-width="0.9"/>
<line x1="128.25" y1="482.9" x2="128.25" y2="485.9" stroke="#231f20" stroke-width="1.1"/>
<line x1="133.46" y1="482.9" x2="133.46" y2="484.7" stroke="#231f20" stroke-width="0.9"/>
<text x="47.05" y="496.8" font-size="7.6" text-anchor="middle">10<tspan font-size="4.8" dy="-3.2">0</tspan></text>
<text x="59.45" y="496.8" font-size="7.6" text-anchor="middle">10<tspan font-size="4.8" dy="-3.2">1</tspan></text>
<text x="76.75" y="496.8" font-size="7.6" text-anchor="middle">10<tspan font-size="4.8" dy="-3.2">2</tspan></text>
<text x="94.05" y="496.8" font-size="7.6" text-anchor="middle">10<tspan font-size="4.8" dy="-3.2">3</tspan></text>
<text x="111.35" y="496.8" font-size="7.6" text-anchor="middle">10<tspan font-size="4.8" dy="-3.2">4</tspan></text>
<text x="126.75" y="496.8" font-size="7.6" text-anchor="middle">10<tspan font-size="4.8" dy="-3.2">5</tspan></text>
<line x1="135.5" y1="482.9" x2="135.5" y2="485.9" stroke="#231f20" stroke-width="1.1"/>
<line x1="140.71" y1="482.9" x2="140.71" y2="484.7" stroke="#231f20" stroke-width="0.9"/>
<line x1="143.75" y1="482.9" x2="143.75" y2="484.7" stroke="#231f20" stroke-width="0.9"/>
<line x1="145.92" y1="482.9" x2="145.92" y2="484.7" stroke="#231f20" stroke-width="0.9"/>
<line x1="147.59" y1="482.9" x2="147.59" y2="484.7" stroke="#231f20" stroke-width="0.9"/>
<line x1="148.96" y1="482.9" x2="148.96" y2="484.7" stroke="#231f20" stroke-width="0.9"/>
<line x1="150.12" y1="482.9" x2="150.12" y2="484.7" stroke="#231f20" stroke-width="0.9"/>
<line x1="151.12" y1="482.9" x2="151.12" y2="484.7" stroke="#231f20" stroke-width="0.9"/>
<line x1="152.01" y1="482.9" x2="152.01" y2="484.7" stroke="#231f20" stroke-width="0.9"/>
<line x1="152.8" y1="482.9" x2="152.8" y2="485.9" stroke="#231f20" stroke-width="1.1"/>
<line x1="158.01" y1="482.9" x2="158.01" y2="484.7" stroke="#231f20" stroke-width="0.9"/>
<line x1="161.05" y1="482.9" x2="161.05" y2="484.7" stroke="#231f20" stroke-width="0.9"/>
<line x1="163.22" y1="482.9" x2="163.22" y2="484.7" stroke="#231f20" stroke-width="0.9"/>
<line x1="164.89" y1="482.9" x2="164.89" y2="484.7" stroke="#231f20" stroke-width="0.9"/>
<line x1="166.26" y1="482.9" x2="166.26" y2="484.7" stroke="#231f20" stroke-width="0.9"/>
<line x1="167.42" y1="482.9" x2="167.42" y2="484.7" stroke="#231f20" stroke-width="0.9"/>
<line x1="168.42" y1="482.9" x2="168.42" y2="484.7" stroke="#231f20" stroke-width="0.9"/>
<line x1="169.31" y1="482.9" x2="169.31" y2="484.7" stroke="#231f20" stroke-width="0.9"/>
<line x1="170.1" y1="482.9" x2="170.1" y2="485.9" stroke="#231f20" stroke-width="1.1"/>
<line x1="175.31" y1="482.9" x2="175.31" y2="484.7" stroke="#231f20" stroke-width="0.9"/>
<line x1="178.35" y1="482.9" x2="178.35" y2="484.7" stroke="#231f20" stroke-width="0.9"/>
<line x1="180.52" y1="482.9" x2="180.52" y2="484.7" stroke="#231f20" stroke-width="0.9"/>
<line x1="182.19" y1="482.9" x2="182.19" y2="484.7" stroke="#231f20" stroke-width="0.9"/>
<line x1="183.56" y1="482.9" x2="183.56" y2="484.7" stroke="#231f20" stroke-width="0.9"/>
<line x1="184.72" y1="482.9" x2="184.72" y2="484.7" stroke="#231f20" stroke-width="0.9"/>
<line x1="185.72" y1="482.9" x2="185.72" y2="484.7" stroke="#231f20" stroke-width="0.9"/>
<line x1="186.61" y1="482.9" x2="186.61" y2="484.7" stroke="#231f20" stroke-width="0.9"/>
<line x1="187.4" y1="482.9" x2="187.4" y2="485.9" stroke="#231f20" stroke-width="1.1"/>
<line x1="192.61" y1="482.9" x2="192.61" y2="484.7" stroke="#231f20" stroke-width="0.9"/>
<line x1="195.65" y1="482.9" x2="195.65" y2="484.7" stroke="#231f20" stroke-width="0.9"/>
<line x1="197.82" y1="482.9" x2="197.82" y2="484.7" stroke="#231f20" stroke-width="0.9"/>
<line x1="199.49" y1="482.9" x2="199.49" y2="484.7" stroke="#231f20" stroke-width="0.9"/>
<line x1="200.86" y1="482.9" x2="200.86" y2="484.7" stroke="#231f20" stroke-width="0.9"/>
<line x1="202.02" y1="482.9" x2="202.02" y2="484.7" stroke="#231f20" stroke-width="0.9"/>
<line x1="203.02" y1="482.9" x2="203.02" y2="484.7" stroke="#231f20" stroke-width="0.9"/>
<line x1="203.91" y1="482.9" x2="203.91" y2="484.7" stroke="#231f20" stroke-width="0.9"/>
<line x1="204.7" y1="482.9" x2="204.7" y2="485.9" stroke="#231f20" stroke-width="1.1"/>
<line x1="209.91" y1="482.9" x2="209.91" y2="484.7" stroke="#231f20" stroke-width="0.9"/>
<line x1="212.95" y1="482.9" x2="212.95" y2="484.7" stroke="#231f20" stroke-width="0.9"/>
<line x1="215.12" y1="482.9" x2="215.12" y2="484.7" stroke="#231f20" stroke-width="0.9"/>
<line x1="216.79" y1="482.9" x2="216.79" y2="484.7" stroke="#231f20" stroke-width="0.9"/>
<line x1="218.16" y1="482.9" x2="218.16" y2="484.7" stroke="#231f20" stroke-width="0.9"/>
<line x1="219.32" y1="482.9" x2="219.32" y2="484.7" stroke="#231f20" stroke-width="0.9"/>
<line x1="220.32" y1="482.9" x2="220.32" y2="484.7" stroke="#231f20" stroke-width="0.9"/>
<line x1="221.21" y1="482.9" x2="221.21" y2="484.7" stroke="#231f20" stroke-width="0.9"/>
<line x1="222" y1="482.9" x2="222" y2="485.9" stroke="#231f20" stroke-width="1.1"/>
<line x1="227.21" y1="482.9" x2="227.21" y2="484.7" stroke="#231f20" stroke-width="0.9"/>
<text x="140.8" y="496.8" font-size="7.6" text-anchor="middle">10<tspan font-size="4.8" dy="-3.2">0</tspan></text>
<text x="153.2" y="496.8" font-size="7.6" text-anchor="middle">10<tspan font-size="4.8" dy="-3.2">1</tspan></text>
<text x="170.5" y="496.8" font-size="7.6" text-anchor="middle">10<tspan font-size="4.8" dy="-3.2">2</tspan></text>
<text x="187.8" y="496.8" font-size="7.6" text-anchor="middle">10<tspan font-size="4.8" dy="-3.2">3</tspan></text>
<text x="205.1" y="496.8" font-size="7.6" text-anchor="middle">10<tspan font-size="4.8" dy="-3.2">4</tspan></text>
<text x="220.5" y="496.8" font-size="7.6" text-anchor="middle">10<tspan font-size="4.8" dy="-3.2">5</tspan></text>
<line x1="230.17" y1="482.9" x2="230.17" y2="485.9" stroke="#231f20" stroke-width="1.1"/>
<line x1="235.38" y1="482.9" x2="235.38" y2="484.7" stroke="#231f20" stroke-width="0.9"/>
<line x1="238.42" y1="482.9" x2="238.42" y2="484.7" stroke="#231f20" stroke-width="0.9"/>
<line x1="240.59" y1="482.9" x2="240.59" y2="484.7" stroke="#231f20" stroke-width="0.9"/>
<line x1="242.26" y1="482.9" x2="242.26" y2="484.7" stroke="#231f20" stroke-width="0.9"/>
<line x1="243.63" y1="482.9" x2="243.63" y2="484.7" stroke="#231f20" stroke-width="0.9"/>
<line x1="244.79" y1="482.9" x2="244.79" y2="484.7" stroke="#231f20" stroke-width="0.9"/>
<line x1="245.79" y1="482.9" x2="245.79" y2="484.7" stroke="#231f20" stroke-width="0.9"/>
<line x1="246.68" y1="482.9" x2="246.68" y2="484.7" stroke="#231f20" stroke-width="0.9"/>
<line x1="247.47" y1="482.9" x2="247.47" y2="485.9" stroke="#231f20" stroke-width="1.1"/>
<line x1="252.68" y1="482.9" x2="252.68" y2="484.7" stroke="#231f20" stroke-width="0.9"/>
<line x1="255.72" y1="482.9" x2="255.72" y2="484.7" stroke="#231f20" stroke-width="0.9"/>
<line x1="257.89" y1="482.9" x2="257.89" y2="484.7" stroke="#231f20" stroke-width="0.9"/>
<line x1="259.56" y1="482.9" x2="259.56" y2="484.7" stroke="#231f20" stroke-width="0.9"/>
<line x1="260.93" y1="482.9" x2="260.93" y2="484.7" stroke="#231f20" stroke-width="0.9"/>
<line x1="262.09" y1="482.9" x2="262.09" y2="484.7" stroke="#231f20" stroke-width="0.9"/>
<line x1="263.09" y1="482.9" x2="263.09" y2="484.7" stroke="#231f20" stroke-width="0.9"/>
<line x1="263.98" y1="482.9" x2="263.98" y2="484.7" stroke="#231f20" stroke-width="0.9"/>
<line x1="264.77" y1="482.9" x2="264.77" y2="485.9" stroke="#231f20" stroke-width="1.1"/>
<line x1="269.98" y1="482.9" x2="269.98" y2="484.7" stroke="#231f20" stroke-width="0.9"/>
<line x1="273.02" y1="482.9" x2="273.02" y2="484.7" stroke="#231f20" stroke-width="0.9"/>
<line x1="275.19" y1="482.9" x2="275.19" y2="484.7" stroke="#231f20" stroke-width="0.9"/>
<line x1="276.86" y1="482.9" x2="276.86" y2="484.7" stroke="#231f20" stroke-width="0.9"/>
<line x1="278.23" y1="482.9" x2="278.23" y2="484.7" stroke="#231f20" stroke-width="0.9"/>
<line x1="279.39" y1="482.9" x2="279.39" y2="484.7" stroke="#231f20" stroke-width="0.9"/>
<line x1="280.39" y1="482.9" x2="280.39" y2="484.7" stroke="#231f20" stroke-width="0.9"/>
<line x1="281.28" y1="482.9" x2="281.28" y2="484.7" stroke="#231f20" stroke-width="0.9"/>
<line x1="282.07" y1="482.9" x2="282.07" y2="485.9" stroke="#231f20" stroke-width="1.1"/>
<line x1="287.28" y1="482.9" x2="287.28" y2="484.7" stroke="#231f20" stroke-width="0.9"/>
<line x1="290.32" y1="482.9" x2="290.32" y2="484.7" stroke="#231f20" stroke-width="0.9"/>
<line x1="292.49" y1="482.9" x2="292.49" y2="484.7" stroke="#231f20" stroke-width="0.9"/>
<line x1="294.16" y1="482.9" x2="294.16" y2="484.7" stroke="#231f20" stroke-width="0.9"/>
<line x1="295.53" y1="482.9" x2="295.53" y2="484.7" stroke="#231f20" stroke-width="0.9"/>
<line x1="296.69" y1="482.9" x2="296.69" y2="484.7" stroke="#231f20" stroke-width="0.9"/>
<line x1="297.69" y1="482.9" x2="297.69" y2="484.7" stroke="#231f20" stroke-width="0.9"/>
<line x1="298.58" y1="482.9" x2="298.58" y2="484.7" stroke="#231f20" stroke-width="0.9"/>
<line x1="299.37" y1="482.9" x2="299.37" y2="485.9" stroke="#231f20" stroke-width="1.1"/>
<line x1="304.58" y1="482.9" x2="304.58" y2="484.7" stroke="#231f20" stroke-width="0.9"/>
<line x1="307.62" y1="482.9" x2="307.62" y2="484.7" stroke="#231f20" stroke-width="0.9"/>
<line x1="309.79" y1="482.9" x2="309.79" y2="484.7" stroke="#231f20" stroke-width="0.9"/>
<line x1="311.46" y1="482.9" x2="311.46" y2="484.7" stroke="#231f20" stroke-width="0.9"/>
<line x1="312.83" y1="482.9" x2="312.83" y2="484.7" stroke="#231f20" stroke-width="0.9"/>
<line x1="313.99" y1="482.9" x2="313.99" y2="484.7" stroke="#231f20" stroke-width="0.9"/>
<line x1="314.99" y1="482.9" x2="314.99" y2="484.7" stroke="#231f20" stroke-width="0.9"/>
<line x1="315.88" y1="482.9" x2="315.88" y2="484.7" stroke="#231f20" stroke-width="0.9"/>
<line x1="316.67" y1="482.9" x2="316.67" y2="485.9" stroke="#231f20" stroke-width="1.1"/>
<line x1="321.88" y1="482.9" x2="321.88" y2="484.7" stroke="#231f20" stroke-width="0.9"/>
<text x="235.47" y="496.8" font-size="7.6" text-anchor="middle">10<tspan font-size="4.8" dy="-3.2">0</tspan></text>
<text x="247.87" y="496.8" font-size="7.6" text-anchor="middle">10<tspan font-size="4.8" dy="-3.2">1</tspan></text>
<text x="265.17" y="496.8" font-size="7.6" text-anchor="middle">10<tspan font-size="4.8" dy="-3.2">2</tspan></text>
<text x="282.47" y="496.8" font-size="7.6" text-anchor="middle">10<tspan font-size="4.8" dy="-3.2">3</tspan></text>
<text x="299.77" y="496.8" font-size="7.6" text-anchor="middle">10<tspan font-size="4.8" dy="-3.2">4</tspan></text>
<text x="315.17" y="496.8" font-size="7.6" text-anchor="middle">10<tspan font-size="4.8" dy="-3.2">5</tspan></text>
<line x1="324.5" y1="482.9" x2="324.5" y2="485.9" stroke="#231f20" stroke-width="1.1"/>
<line x1="329.71" y1="482.9" x2="329.71" y2="484.7" stroke="#231f20" stroke-width="0.9"/>
<line x1="332.75" y1="482.9" x2="332.75" y2="484.7" stroke="#231f20" stroke-width="0.9"/>
<line x1="334.92" y1="482.9" x2="334.92" y2="484.7" stroke="#231f20" stroke-width="0.9"/>
<line x1="336.59" y1="482.9" x2="336.59" y2="484.7" stroke="#231f20" stroke-width="0.9"/>
<line x1="337.96" y1="482.9" x2="337.96" y2="484.7" stroke="#231f20" stroke-width="0.9"/>
<line x1="339.12" y1="482.9" x2="339.12" y2="484.7" stroke="#231f20" stroke-width="0.9"/>
<line x1="340.12" y1="482.9" x2="340.12" y2="484.7" stroke="#231f20" stroke-width="0.9"/>
<line x1="341.01" y1="482.9" x2="341.01" y2="484.7" stroke="#231f20" stroke-width="0.9"/>
<line x1="341.8" y1="482.9" x2="341.8" y2="485.9" stroke="#231f20" stroke-width="1.1"/>
<line x1="347.01" y1="482.9" x2="347.01" y2="484.7" stroke="#231f20" stroke-width="0.9"/>
<line x1="350.05" y1="482.9" x2="350.05" y2="484.7" stroke="#231f20" stroke-width="0.9"/>
<line x1="352.22" y1="482.9" x2="352.22" y2="484.7" stroke="#231f20" stroke-width="0.9"/>
<line x1="353.89" y1="482.9" x2="353.89" y2="484.7" stroke="#231f20" stroke-width="0.9"/>
<line x1="355.26" y1="482.9" x2="355.26" y2="484.7" stroke="#231f20" stroke-width="0.9"/>
<line x1="356.42" y1="482.9" x2="356.42" y2="484.7" stroke="#231f20" stroke-width="0.9"/>
<line x1="357.42" y1="482.9" x2="357.42" y2="484.7" stroke="#231f20" stroke-width="0.9"/>
<line x1="358.31" y1="482.9" x2="358.31" y2="484.7" stroke="#231f20" stroke-width="0.9"/>
<line x1="359.1" y1="482.9" x2="359.1" y2="485.9" stroke="#231f20" stroke-width="1.1"/>
<line x1="364.31" y1="482.9" x2="364.31" y2="484.7" stroke="#231f20" stroke-width="0.9"/>
<line x1="367.35" y1="482.9" x2="367.35" y2="484.7" stroke="#231f20" stroke-width="0.9"/>
<line x1="369.52" y1="482.9" x2="369.52" y2="484.7" stroke="#231f20" stroke-width="0.9"/>
<line x1="371.19" y1="482.9" x2="371.19" y2="484.7" stroke="#231f20" stroke-width="0.9"/>
<line x1="372.56" y1="482.9" x2="372.56" y2="484.7" stroke="#231f20" stroke-width="0.9"/>
<line x1="373.72" y1="482.9" x2="373.72" y2="484.7" stroke="#231f20" stroke-width="0.9"/>
<line x1="374.72" y1="482.9" x2="374.72" y2="484.7" stroke="#231f20" stroke-width="0.9"/>
<line x1="375.61" y1="482.9" x2="375.61" y2="484.7" stroke="#231f20" stroke-width="0.9"/>
<line x1="376.4" y1="482.9" x2="376.4" y2="485.9" stroke="#231f20" stroke-width="1.1"/>
<line x1="381.61" y1="482.9" x2="381.61" y2="484.7" stroke="#231f20" stroke-width="0.9"/>
<line x1="384.65" y1="482.9" x2="384.65" y2="484.7" stroke="#231f20" stroke-width="0.9"/>
<line x1="386.82" y1="482.9" x2="386.82" y2="484.7" stroke="#231f20" stroke-width="0.9"/>
<line x1="388.49" y1="482.9" x2="388.49" y2="484.7" stroke="#231f20" stroke-width="0.9"/>
<line x1="389.86" y1="482.9" x2="389.86" y2="484.7" stroke="#231f20" stroke-width="0.9"/>
<line x1="391.02" y1="482.9" x2="391.02" y2="484.7" stroke="#231f20" stroke-width="0.9"/>
<line x1="392.02" y1="482.9" x2="392.02" y2="484.7" stroke="#231f20" stroke-width="0.9"/>
<line x1="392.91" y1="482.9" x2="392.91" y2="484.7" stroke="#231f20" stroke-width="0.9"/>
<line x1="393.7" y1="482.9" x2="393.7" y2="485.9" stroke="#231f20" stroke-width="1.1"/>
<line x1="398.91" y1="482.9" x2="398.91" y2="484.7" stroke="#231f20" stroke-width="0.9"/>
<line x1="401.95" y1="482.9" x2="401.95" y2="484.7" stroke="#231f20" stroke-width="0.9"/>
<line x1="404.12" y1="482.9" x2="404.12" y2="484.7" stroke="#231f20" stroke-width="0.9"/>
<line x1="405.79" y1="482.9" x2="405.79" y2="484.7" stroke="#231f20" stroke-width="0.9"/>
<line x1="407.16" y1="482.9" x2="407.16" y2="484.7" stroke="#231f20" stroke-width="0.9"/>
<line x1="408.32" y1="482.9" x2="408.32" y2="484.7" stroke="#231f20" stroke-width="0.9"/>
<line x1="409.32" y1="482.9" x2="409.32" y2="484.7" stroke="#231f20" stroke-width="0.9"/>
<line x1="410.21" y1="482.9" x2="410.21" y2="484.7" stroke="#231f20" stroke-width="0.9"/>
<line x1="411" y1="482.9" x2="411" y2="485.9" stroke="#231f20" stroke-width="1.1"/>
<line x1="416.21" y1="482.9" x2="416.21" y2="484.7" stroke="#231f20" stroke-width="0.9"/>
<text x="329.8" y="496.8" font-size="7.6" text-anchor="middle">10<tspan font-size="4.8" dy="-3.2">0</tspan></text>
<text x="342.2" y="496.8" font-size="7.6" text-anchor="middle">10<tspan font-size="4.8" dy="-3.2">1</tspan></text>
<text x="359.5" y="496.8" font-size="7.6" text-anchor="middle">10<tspan font-size="4.8" dy="-3.2">2</tspan></text>
<text x="376.8" y="496.8" font-size="7.6" text-anchor="middle">10<tspan font-size="4.8" dy="-3.2">3</tspan></text>
<text x="394.1" y="496.8" font-size="7.6" text-anchor="middle">10<tspan font-size="4.8" dy="-3.2">4</tspan></text>
<text x="409.5" y="496.8" font-size="7.6" text-anchor="middle">10<tspan font-size="4.8" dy="-3.2">5</tspan></text>
<line x1="418.5" y1="482.9" x2="418.5" y2="485.9" stroke="#231f20" stroke-width="1.1"/>
<line x1="423.71" y1="482.9" x2="423.71" y2="484.7" stroke="#231f20" stroke-width="0.9"/>
<line x1="426.75" y1="482.9" x2="426.75" y2="484.7" stroke="#231f20" stroke-width="0.9"/>
<line x1="428.92" y1="482.9" x2="428.92" y2="484.7" stroke="#231f20" stroke-width="0.9"/>
<line x1="430.59" y1="482.9" x2="430.59" y2="484.7" stroke="#231f20" stroke-width="0.9"/>
<line x1="431.96" y1="482.9" x2="431.96" y2="484.7" stroke="#231f20" stroke-width="0.9"/>
<line x1="433.12" y1="482.9" x2="433.12" y2="484.7" stroke="#231f20" stroke-width="0.9"/>
<line x1="434.12" y1="482.9" x2="434.12" y2="484.7" stroke="#231f20" stroke-width="0.9"/>
<line x1="435.01" y1="482.9" x2="435.01" y2="484.7" stroke="#231f20" stroke-width="0.9"/>
<line x1="435.8" y1="482.9" x2="435.8" y2="485.9" stroke="#231f20" stroke-width="1.1"/>
<line x1="441.01" y1="482.9" x2="441.01" y2="484.7" stroke="#231f20" stroke-width="0.9"/>
<line x1="444.05" y1="482.9" x2="444.05" y2="484.7" stroke="#231f20" stroke-width="0.9"/>
<line x1="446.22" y1="482.9" x2="446.22" y2="484.7" stroke="#231f20" stroke-width="0.9"/>
<line x1="447.89" y1="482.9" x2="447.89" y2="484.7" stroke="#231f20" stroke-width="0.9"/>
<line x1="449.26" y1="482.9" x2="449.26" y2="484.7" stroke="#231f20" stroke-width="0.9"/>
<line x1="450.42" y1="482.9" x2="450.42" y2="484.7" stroke="#231f20" stroke-width="0.9"/>
<line x1="451.42" y1="482.9" x2="451.42" y2="484.7" stroke="#231f20" stroke-width="0.9"/>
<line x1="452.31" y1="482.9" x2="452.31" y2="484.7" stroke="#231f20" stroke-width="0.9"/>
<line x1="453.1" y1="482.9" x2="453.1" y2="485.9" stroke="#231f20" stroke-width="1.1"/>
<line x1="458.31" y1="482.9" x2="458.31" y2="484.7" stroke="#231f20" stroke-width="0.9"/>
<line x1="461.35" y1="482.9" x2="461.35" y2="484.7" stroke="#231f20" stroke-width="0.9"/>
<line x1="463.52" y1="482.9" x2="463.52" y2="484.7" stroke="#231f20" stroke-width="0.9"/>
<line x1="465.19" y1="482.9" x2="465.19" y2="484.7" stroke="#231f20" stroke-width="0.9"/>
<line x1="466.56" y1="482.9" x2="466.56" y2="484.7" stroke="#231f20" stroke-width="0.9"/>
<line x1="467.72" y1="482.9" x2="467.72" y2="484.7" stroke="#231f20" stroke-width="0.9"/>
<line x1="468.72" y1="482.9" x2="468.72" y2="484.7" stroke="#231f20" stroke-width="0.9"/>
<line x1="469.61" y1="482.9" x2="469.61" y2="484.7" stroke="#231f20" stroke-width="0.9"/>
<line x1="470.4" y1="482.9" x2="470.4" y2="485.9" stroke="#231f20" stroke-width="1.1"/>
<line x1="475.61" y1="482.9" x2="475.61" y2="484.7" stroke="#231f20" stroke-width="0.9"/>
<line x1="478.65" y1="482.9" x2="478.65" y2="484.7" stroke="#231f20" stroke-width="0.9"/>
<line x1="480.82" y1="482.9" x2="480.82" y2="484.7" stroke="#231f20" stroke-width="0.9"/>
<line x1="482.49" y1="482.9" x2="482.49" y2="484.7" stroke="#231f20" stroke-width="0.9"/>
<line x1="483.86" y1="482.9" x2="483.86" y2="484.7" stroke="#231f20" stroke-width="0.9"/>
<line x1="485.02" y1="482.9" x2="485.02" y2="484.7" stroke="#231f20" stroke-width="0.9"/>
<line x1="486.02" y1="482.9" x2="486.02" y2="484.7" stroke="#231f20" stroke-width="0.9"/>
<line x1="486.91" y1="482.9" x2="486.91" y2="484.7" stroke="#231f20" stroke-width="0.9"/>
<line x1="487.7" y1="482.9" x2="487.7" y2="485.9" stroke="#231f20" stroke-width="1.1"/>
<line x1="492.91" y1="482.9" x2="492.91" y2="484.7" stroke="#231f20" stroke-width="0.9"/>
<line x1="495.95" y1="482.9" x2="495.95" y2="484.7" stroke="#231f20" stroke-width="0.9"/>
<line x1="498.12" y1="482.9" x2="498.12" y2="484.7" stroke="#231f20" stroke-width="0.9"/>
<line x1="499.79" y1="482.9" x2="499.79" y2="484.7" stroke="#231f20" stroke-width="0.9"/>
<line x1="501.16" y1="482.9" x2="501.16" y2="484.7" stroke="#231f20" stroke-width="0.9"/>
<line x1="502.32" y1="482.9" x2="502.32" y2="484.7" stroke="#231f20" stroke-width="0.9"/>
<line x1="503.32" y1="482.9" x2="503.32" y2="484.7" stroke="#231f20" stroke-width="0.9"/>
<line x1="504.21" y1="482.9" x2="504.21" y2="484.7" stroke="#231f20" stroke-width="0.9"/>
<line x1="505" y1="482.9" x2="505" y2="485.9" stroke="#231f20" stroke-width="1.1"/>
<line x1="510.21" y1="482.9" x2="510.21" y2="484.7" stroke="#231f20" stroke-width="0.9"/>
<text x="423.8" y="496.8" font-size="7.6" text-anchor="middle">10<tspan font-size="4.8" dy="-3.2">0</tspan></text>
<text x="436.2" y="496.8" font-size="7.6" text-anchor="middle">10<tspan font-size="4.8" dy="-3.2">1</tspan></text>
<text x="453.5" y="496.8" font-size="7.6" text-anchor="middle">10<tspan font-size="4.8" dy="-3.2">2</tspan></text>
<text x="470.8" y="496.8" font-size="7.6" text-anchor="middle">10<tspan font-size="4.8" dy="-3.2">3</tspan></text>
<text x="488.1" y="496.8" font-size="7.6" text-anchor="middle">10<tspan font-size="4.8" dy="-3.2">4</tspan></text>
<text x="503.5" y="496.8" font-size="7.6" text-anchor="middle">10<tspan font-size="4.8" dy="-3.2">5</tspan></text>
<text x="0" y="0" font-size="10" text-anchor="middle" textLength="24.8" lengthAdjust="spacingAndGlyphs" transform="translate(15.7,444.8) rotate(-90)">Count</text>
<path d="M107.2,482.9 L107.2,482.11 L107.6,481.62 L108,480.89 L108.4,479.82 L108.8,478.31 L109.2,476.24 L109.6,473.5 L110,469.99 L110.4,465.63 L110.8,460.43 L111.2,454.43 L111.6,447.8 L112,440.78 L112.4,433.7 L112.8,426.96 L113.2,421 L113.6,416.22 L114,412.99 L114.4,411.56 L114.8,411.94 L115.2,413.86 L115.6,417.19 L116,421.71 L116.4,427.16 L116.8,433.23 L117.2,439.59 L117.6,445.96 L118,452.08 L118.4,457.74 L118.8,462.81 L119.2,467.21 L119.6,470.91 L120,473.93 L120.4,476.34 L120.8,478.21 L121.2,479.61 L121.6,480.65 L122,481.39 L122.4,481.91 L122.4,482.9 Z" fill="#cf8e80" stroke="#b0073a" stroke-width="1.25" stroke-linejoin="round"/>
<path d="M197.3,482.9 L197.3,482.19 L197.7,481.85 L198.1,481.39 L198.5,480.76 L198.9,479.92 L199.3,478.82 L199.7,477.41 L200.1,475.63 L200.5,473.43 L200.9,470.78 L201.3,467.65 L201.7,464.04 L202.1,459.96 L202.5,455.48 L202.9,450.67 L203.3,445.65 L203.7,440.58 L204.1,435.64 L204.5,431 L204.9,426.87 L205.3,423.43 L205.7,420.85 L206.1,419.24 L206.5,418.7 L206.9,419.4 L207.3,421.46 L207.7,424.74 L208.1,429.04 L208.5,434.1 L208.9,439.65 L209.3,445.4 L209.7,451.09 L210.1,456.51 L210.5,461.47 L210.9,465.88 L211.3,469.68 L211.7,472.85 L212.1,475.43 L212.5,477.46 L212.9,479.03 L213.3,480.21 L213.7,481.07 L214.1,481.68 L214.5,482.1 L214.5,482.9 Z" fill="#cf8e80" stroke="#b0073a" stroke-width="1.25" stroke-linejoin="round"/>
<path d="M294.7,482.9 L294.7,482.15 L295.1,481.76 L295.5,481.21 L295.9,480.44 L296.3,479.4 L296.7,478.01 L297.1,476.21 L297.5,473.93 L297.9,471.1 L298.3,467.68 L298.7,463.66 L299.1,459.07 L299.5,453.96 L299.9,448.44 L300.3,442.69 L300.7,436.89 L301.1,431.31 L301.5,426.19 L301.9,421.78 L302.3,418.34 L302.7,416.05 L303.1,415.04 L303.5,415.47 L303.9,417.54 L304.3,421.11 L304.7,425.92 L305.1,431.65 L305.5,437.93 L305.9,444.42 L306.3,450.78 L306.7,456.76 L307.1,462.14 L307.5,466.82 L307.9,470.75 L308.3,473.95 L308.7,476.47 L309.1,478.39 L309.5,479.82 L309.9,480.84 L310.3,481.56 L310.7,482.05 L310.7,482.9 Z" fill="#cf8e80" stroke="#b0073a" stroke-width="1.25" stroke-linejoin="round"/>
<path d="M387.7,482.9 L387.7,482.13 L388.1,481.69 L388.5,481.04 L388.9,480.1 L389.3,478.8 L389.7,477.03 L390.1,474.7 L390.5,471.73 L390.9,468.04 L391.3,463.61 L391.7,458.45 L392.1,452.66 L392.5,446.4 L392.9,439.9 L393.3,433.46 L393.7,427.41 L394.1,422.12 L394.5,417.92 L394.9,415.1 L395.3,413.85 L395.7,414.23 L396.1,416.08 L396.5,419.3 L396.9,423.68 L397.3,428.96 L397.7,434.83 L398.1,440.99 L398.5,447.15 L398.9,453.07 L399.3,458.55 L399.7,463.46 L400.1,467.71 L400.5,471.29 L400.9,474.22 L401.3,476.55 L401.7,478.36 L402.1,479.72 L402.5,480.72 L402.9,481.44 L403.3,481.94 L403.3,482.9 Z" fill="#cf8e80" stroke="#b0073a" stroke-width="1.25" stroke-linejoin="round"/>
<path d="M434.3,482.9 L434.3,482.9 C434.52,482.41 436.11,478.84 436.5,478 C436.89,477.16 437.89,474.94 438.2,474.5 C438.51,474.06 439.22,473.57 439.6,473.6 C439.98,473.63 441.47,474.52 442,474.8 C442.53,475.08 444.3,475.98 444.9,476.4 C445.5,476.82 447.37,478.58 448,479 C448.63,479.42 450.6,480.42 451.2,480.6 C451.8,480.78 453.47,480.8 454,480.8 C454.53,480.8 456.1,480.73 456.5,480.6 C456.9,480.47 457.68,479.71 458,479.5 C458.32,479.29 459.3,478.51 459.7,478.5 C460.1,478.49 461.47,479.29 462,479.4 C462.53,479.51 464.48,479.72 465,479.6 C465.52,479.48 466.78,478.52 467.2,478.2 C467.62,477.88 468.79,476.69 469.2,476.4 C469.61,476.11 470.9,475.79 471.3,475.3 C471.7,474.81 472.91,471.78 473.2,471.5 C473.49,471.22 474.01,472.16 474.2,472.5 C474.39,472.84 474.82,475.35 475.1,474.9 C475.38,474.45 476.65,469.99 477,468 C477.35,466.01 478.32,457.27 478.6,455 C478.88,452.73 479.58,445.3 479.8,445.3 C480.02,445.3 480.59,452.73 480.8,455 C481.01,457.27 481.6,468.5 481.9,468 C482.2,467.5 483.47,454.3 483.8,450 C484.13,445.7 484.97,428.13 485.2,425 C485.43,421.87 485.9,417.7 486.1,418.7 C486.3,419.7 486.95,430.87 487.2,435 C487.45,439.13 488.27,457.55 488.6,460 C488.93,462.45 490.11,459.66 490.5,459.5 C490.89,459.34 492.09,458.05 492.5,458.4 C492.91,458.75 494.17,461.54 494.6,463 C495.03,464.46 496.41,471.35 496.8,473 C497.19,474.65 498.19,478.51 498.5,479.5 C498.81,480.49 499.76,482.56 499.9,482.9 L499.9,482.9 Z" fill="#cf8e80" stroke="#b0073a" stroke-width="1.25" stroke-linejoin="round"/>
<line x1="58.6" y1="424.5" x2="109.5" y2="424.5" stroke="#231f20" stroke-width="1.25"/>
<line x1="109.5" y1="422.9" x2="109.5" y2="426.1" stroke="#231f20" stroke-width="1.25"/>
<line x1="58.6" y1="422.9" x2="58.6" y2="426.1" stroke="#231f20" stroke-width="1.25"/>
<text x="84.2" y="422.6" font-size="6.8" text-anchor="middle">2.16</text>
<line x1="152.5" y1="424.5" x2="203.5" y2="424.5" stroke="#231f20" stroke-width="1.25"/>
<line x1="203.5" y1="422.9" x2="203.5" y2="426.1" stroke="#231f20" stroke-width="1.25"/>
<line x1="152.5" y1="422.9" x2="152.5" y2="426.1" stroke="#231f20" stroke-width="1.25"/>
<text x="177.7" y="422.6" font-size="6.8" text-anchor="middle">9.08</text>
<line x1="247" y1="424.5" x2="298" y2="424.5" stroke="#231f20" stroke-width="1.25"/>
<line x1="298" y1="422.9" x2="298" y2="426.1" stroke="#231f20" stroke-width="1.25"/>
<line x1="247" y1="422.9" x2="247" y2="426.1" stroke="#231f20" stroke-width="1.25"/>
<text x="272.4" y="422.6" font-size="6.8" text-anchor="middle">4.05</text>
<line x1="341" y1="424.5" x2="391.9" y2="424.5" stroke="#231f20" stroke-width="1.25"/>
<line x1="391.9" y1="422.9" x2="391.9" y2="426.1" stroke="#231f20" stroke-width="1.25"/>
<line x1="341" y1="422.9" x2="341" y2="426.1" stroke="#231f20" stroke-width="1.25"/>
<text x="366.5" y="422.6" font-size="6.8" text-anchor="middle">8.47</text>
<line x1="433.3" y1="425.1" x2="489.6" y2="425.1" stroke="#231f20" stroke-width="1.25"/>
<line x1="489.6" y1="423.5" x2="489.6" y2="426.7" stroke="#231f20" stroke-width="1.25"/>
<line x1="433.3" y1="423.5" x2="433.3" y2="426.7" stroke="#231f20" stroke-width="1.25"/>
<text x="461.6" y="423.2" font-size="6.8" text-anchor="middle">79.0</text>
<text x="73" y="510.2" font-size="10.3" textLength="19.7" lengthAdjust="spacingAndGlyphs">CFSE</text>
<line x1="96.1" y1="507" x2="455.4" y2="507" stroke="#231f20" stroke-width="1.5"/>
<path d="M463.8,507 L453.4,502.8 L455.8,507 L453.4,511.2 Z" fill="#231f20"/>
<text x="8.5" y="539.5" font-size="11.2">D</text>
<text x="168.6" y="536.9" font-size="10.4" textLength="217.3" lengthAdjust="spacingAndGlyphs">Primary stimulation of purified na&#239;ve CD3+CD4+ cells</text>
<line x1="168.6" y1="538.4" x2="385.9" y2="538.4" stroke="#231f20" stroke-width="0.9"/>
<text x="88.5" y="549.7" font-size="7.6" text-anchor="middle" textLength="18.3" lengthAdjust="spacingAndGlyphs">Na&#239;ve</text>
<text x="64" y="559.6" font-size="7.9" textLength="49.6" lengthAdjust="spacingAndGlyphs">no-stimulation</text>
<text x="167.5" y="559.5" font-size="7.9" textLength="30.8" lengthAdjust="spacingAndGlyphs">32Dp210</text>
<text x="255.7" y="559.5" font-size="7.9" textLength="43.1" lengthAdjust="spacingAndGlyphs">-IL15-IL15R&#945;</text>
<text x="362.2" y="559.5" font-size="7.9" textLength="18.9" lengthAdjust="spacingAndGlyphs">CD80</text>
<text x="433.3" y="558.8" font-size="7.9" textLength="63.4" lengthAdjust="spacingAndGlyphs">-IL15-IL15R&#945;-CD80</text>
<line x1="41.05" y1="564.6" x2="512.8" y2="564.6" stroke="#231f20" stroke-width="1.4"/>
<line x1="41.05" y1="641.9" x2="512.8" y2="641.9" stroke="#231f20" stroke-width="1.4"/>
<line x1="41.75" y1="564.6" x2="41.75" y2="641.9" stroke="#231f20" stroke-width="1.4"/>
<line x1="135.7" y1="564.6" x2="135.7" y2="641.9" stroke="#231f20" stroke-width="1.4"/>
<line x1="230.17" y1="564.6" x2="230.17" y2="641.9" stroke="#231f20" stroke-width="1.4"/>
<line x1="323.85" y1="564.6" x2="323.85" y2="641.9" stroke="#231f20" stroke-width="1.4"/>
<line x1="417.9" y1="564.6" x2="417.9" y2="641.9" stroke="#231f20" stroke-width="1.4"/>
<line x1="512.1" y1="564.6" x2="512.1" y2="641.9" stroke="#231f20" stroke-width="1.4"/>
<line x1="38.65" y1="641.5" x2="41.75" y2="641.5" stroke="#231f20" stroke-width="1"/>
<text x="34.75" y="644.2" font-size="7.5" text-anchor="end">0</text>
<line x1="38.65" y1="620.4" x2="41.75" y2="620.4" stroke="#231f20" stroke-width="1"/>
<text x="34.75" y="623.1" font-size="7.5" text-anchor="end">200</text>
<line x1="38.65" y1="599.4" x2="41.75" y2="599.4" stroke="#231f20" stroke-width="1"/>
<text x="34.75" y="602.1" font-size="7.5" text-anchor="end">400</text>
<line x1="38.65" y1="578.2" x2="41.75" y2="578.2" stroke="#231f20" stroke-width="1"/>
<text x="34.75" y="580.9" font-size="7.5" text-anchor="end">600</text>
<line x1="40.15" y1="641.5" x2="41.75" y2="641.5" stroke="#231f20" stroke-width="0.8"/>
<line x1="40.15" y1="636.23" x2="41.75" y2="636.23" stroke="#231f20" stroke-width="0.8"/>
<line x1="40.15" y1="630.95" x2="41.75" y2="630.95" stroke="#231f20" stroke-width="0.8"/>
<line x1="40.15" y1="625.68" x2="41.75" y2="625.68" stroke="#231f20" stroke-width="0.8"/>
<line x1="40.15" y1="620.4" x2="41.75" y2="620.4" stroke="#231f20" stroke-width="0.8"/>
<line x1="40.15" y1="615.13" x2="41.75" y2="615.13" stroke="#231f20" stroke-width="0.8"/>
<line x1="40.15" y1="609.85" x2="41.75" y2="609.85" stroke="#231f20" stroke-width="0.8"/>
<line x1="40.15" y1="604.58" x2="41.75" y2="604.58" stroke="#231f20" stroke-width="0.8"/>
<line x1="40.15" y1="599.3" x2="41.75" y2="599.3" stroke="#231f20" stroke-width="0.8"/>
<line x1="40.15" y1="594.03" x2="41.75" y2="594.03" stroke="#231f20" stroke-width="0.8"/>
<line x1="40.15" y1="588.75" x2="41.75" y2="588.75" stroke="#231f20" stroke-width="0.8"/>
<line x1="40.15" y1="583.48" x2="41.75" y2="583.48" stroke="#231f20" stroke-width="0.8"/>
<line x1="40.15" y1="578.2" x2="41.75" y2="578.2" stroke="#231f20" stroke-width="0.8"/>
<line x1="40.15" y1="572.93" x2="41.75" y2="572.93" stroke="#231f20" stroke-width="0.8"/>
<line x1="40.15" y1="567.65" x2="41.75" y2="567.65" stroke="#231f20" stroke-width="0.8"/>
<line x1="41.75" y1="641.9" x2="41.75" y2="644.9" stroke="#231f20" stroke-width="1.1"/>
<line x1="46.96" y1="641.9" x2="46.96" y2="643.7" stroke="#231f20" stroke-width="0.9"/>
<line x1="50" y1="641.9" x2="50" y2="643.7" stroke="#231f20" stroke-width="0.9"/>
<line x1="52.17" y1="641.9" x2="52.17" y2="643.7" stroke="#231f20" stroke-width="0.9"/>
<line x1="53.84" y1="641.9" x2="53.84" y2="643.7" stroke="#231f20" stroke-width="0.9"/>
<line x1="55.21" y1="641.9" x2="55.21" y2="643.7" stroke="#231f20" stroke-width="0.9"/>
<line x1="56.37" y1="641.9" x2="56.37" y2="643.7" stroke="#231f20" stroke-width="0.9"/>
<line x1="57.37" y1="641.9" x2="57.37" y2="643.7" stroke="#231f20" stroke-width="0.9"/>
<line x1="58.26" y1="641.9" x2="58.26" y2="643.7" stroke="#231f20" stroke-width="0.9"/>
<line x1="59.05" y1="641.9" x2="59.05" y2="644.9" stroke="#231f20" stroke-width="1.1"/>
<line x1="64.26" y1="641.9" x2="64.26" y2="643.7" stroke="#231f20" stroke-width="0.9"/>
<line x1="67.3" y1="641.9" x2="67.3" y2="643.7" stroke="#231f20" stroke-width="0.9"/>
<line x1="69.47" y1="641.9" x2="69.47" y2="643.7" stroke="#231f20" stroke-width="0.9"/>
<line x1="71.14" y1="641.9" x2="71.14" y2="643.7" stroke="#231f20" stroke-width="0.9"/>
<line x1="72.51" y1="641.9" x2="72.51" y2="643.7" stroke="#231f20" stroke-width="0.9"/>
<line x1="73.67" y1="641.9" x2="73.67" y2="643.7" stroke="#231f20" stroke-width="0.9"/>
<line x1="74.67" y1="641.9" x2="74.67" y2="643.7" stroke="#231f20" stroke-width="0.9"/>
<line x1="75.56" y1="641.9" x2="75.56" y2="643.7" stroke="#231f20" stroke-width="0.9"/>
<line x1="76.35" y1="641.9" x2="76.35" y2="644.9" stroke="#231f20" stroke-width="1.1"/>
<line x1="81.56" y1="641.9" x2="81.56" y2="643.7" stroke="#231f20" stroke-width="0.9"/>
<line x1="84.6" y1="641.9" x2="84.6" y2="643.7" stroke="#231f20" stroke-width="0.9"/>
<line x1="86.77" y1="641.9" x2="86.77" y2="643.7" stroke="#231f20" stroke-width="0.9"/>
<line x1="88.44" y1="641.9" x2="88.44" y2="643.7" stroke="#231f20" stroke-width="0.9"/>
<line x1="89.81" y1="641.9" x2="89.81" y2="643.7" stroke="#231f20" stroke-width="0.9"/>
<line x1="90.97" y1="641.9" x2="90.97" y2="643.7" stroke="#231f20" stroke-width="0.9"/>
<line x1="91.97" y1="641.9" x2="91.97" y2="643.7" stroke="#231f20" stroke-width="0.9"/>
<line x1="92.86" y1="641.9" x2="92.86" y2="643.7" stroke="#231f20" stroke-width="0.9"/>
<line x1="93.65" y1="641.9" x2="93.65" y2="644.9" stroke="#231f20" stroke-width="1.1"/>
<line x1="98.86" y1="641.9" x2="98.86" y2="643.7" stroke="#231f20" stroke-width="0.9"/>
<line x1="101.9" y1="641.9" x2="101.9" y2="643.7" stroke="#231f20" stroke-width="0.9"/>
<line x1="104.07" y1="641.9" x2="104.07" y2="643.7" stroke="#231f20" stroke-width="0.9"/>
<line x1="105.74" y1="641.9" x2="105.74" y2="643.7" stroke="#231f20" stroke-width="0.9"/>
<line x1="107.11" y1="641.9" x2="107.11" y2="643.7" stroke="#231f20" stroke-width="0.9"/>
<line x1="108.27" y1="641.9" x2="108.27" y2="643.7" stroke="#231f20" stroke-width="0.9"/>
<line x1="109.27" y1="641.9" x2="109.27" y2="643.7" stroke="#231f20" stroke-width="0.9"/>
<line x1="110.16" y1="641.9" x2="110.16" y2="643.7" stroke="#231f20" stroke-width="0.9"/>
<line x1="110.95" y1="641.9" x2="110.95" y2="644.9" stroke="#231f20" stroke-width="1.1"/>
<line x1="116.16" y1="641.9" x2="116.16" y2="643.7" stroke="#231f20" stroke-width="0.9"/>
<line x1="119.2" y1="641.9" x2="119.2" y2="643.7" stroke="#231f20" stroke-width="0.9"/>
<line x1="121.37" y1="641.9" x2="121.37" y2="643.7" stroke="#231f20" stroke-width="0.9"/>
<line x1="123.04" y1="641.9" x2="123.04" y2="643.7" stroke="#231f20" stroke-width="0.9"/>
<line x1="124.41" y1="641.9" x2="124.41" y2="643.7" stroke="#231f20" stroke-width="0.9"/>
<line x1="125.57" y1="641.9" x2="125.57" y2="643.7" stroke="#231f20" stroke-width="0.9"/>
<line x1="126.57" y1="641.9" x2="126.57" y2="643.7" stroke="#231f20" stroke-width="0.9"/>
<line x1="127.46" y1="641.9" x2="127.46" y2="643.7" stroke="#231f20" stroke-width="0.9"/>
<line x1="128.25" y1="641.9" x2="128.25" y2="644.9" stroke="#231f20" stroke-width="1.1"/>
<line x1="133.46" y1="641.9" x2="133.46" y2="643.7" stroke="#231f20" stroke-width="0.9"/>
<text x="47.05" y="655.8" font-size="7.6" text-anchor="middle">10<tspan font-size="4.8" dy="-3.2">0</tspan></text>
<text x="59.45" y="655.8" font-size="7.6" text-anchor="middle">10<tspan font-size="4.8" dy="-3.2">1</tspan></text>
<text x="76.75" y="655.8" font-size="7.6" text-anchor="middle">10<tspan font-size="4.8" dy="-3.2">2</tspan></text>
<text x="94.05" y="655.8" font-size="7.6" text-anchor="middle">10<tspan font-size="4.8" dy="-3.2">3</tspan></text>
<text x="111.35" y="655.8" font-size="7.6" text-anchor="middle">10<tspan font-size="4.8" dy="-3.2">4</tspan></text>
<text x="126.75" y="655.8" font-size="7.6" text-anchor="middle">10<tspan font-size="4.8" dy="-3.2">5</tspan></text>
<line x1="135.7" y1="641.9" x2="135.7" y2="644.9" stroke="#231f20" stroke-width="1.1"/>
<line x1="140.91" y1="641.9" x2="140.91" y2="643.7" stroke="#231f20" stroke-width="0.9"/>
<line x1="143.95" y1="641.9" x2="143.95" y2="643.7" stroke="#231f20" stroke-width="0.9"/>
<line x1="146.12" y1="641.9" x2="146.12" y2="643.7" stroke="#231f20" stroke-width="0.9"/>
<line x1="147.79" y1="641.9" x2="147.79" y2="643.7" stroke="#231f20" stroke-width="0.9"/>
<line x1="149.16" y1="641.9" x2="149.16" y2="643.7" stroke="#231f20" stroke-width="0.9"/>
<line x1="150.32" y1="641.9" x2="150.32" y2="643.7" stroke="#231f20" stroke-width="0.9"/>
<line x1="151.32" y1="641.9" x2="151.32" y2="643.7" stroke="#231f20" stroke-width="0.9"/>
<line x1="152.21" y1="641.9" x2="152.21" y2="643.7" stroke="#231f20" stroke-width="0.9"/>
<line x1="153" y1="641.9" x2="153" y2="644.9" stroke="#231f20" stroke-width="1.1"/>
<line x1="158.21" y1="641.9" x2="158.21" y2="643.7" stroke="#231f20" stroke-width="0.9"/>
<line x1="161.25" y1="641.9" x2="161.25" y2="643.7" stroke="#231f20" stroke-width="0.9"/>
<line x1="163.42" y1="641.9" x2="163.42" y2="643.7" stroke="#231f20" stroke-width="0.9"/>
<line x1="165.09" y1="641.9" x2="165.09" y2="643.7" stroke="#231f20" stroke-width="0.9"/>
<line x1="166.46" y1="641.9" x2="166.46" y2="643.7" stroke="#231f20" stroke-width="0.9"/>
<line x1="167.62" y1="641.9" x2="167.62" y2="643.7" stroke="#231f20" stroke-width="0.9"/>
<line x1="168.62" y1="641.9" x2="168.62" y2="643.7" stroke="#231f20" stroke-width="0.9"/>
<line x1="169.51" y1="641.9" x2="169.51" y2="643.7" stroke="#231f20" stroke-width="0.9"/>
<line x1="170.3" y1="641.9" x2="170.3" y2="644.9" stroke="#231f20" stroke-width="1.1"/>
<line x1="175.51" y1="641.9" x2="175.51" y2="643.7" stroke="#231f20" stroke-width="0.9"/>
<line x1="178.55" y1="641.9" x2="178.55" y2="643.7" stroke="#231f20" stroke-width="0.9"/>
<line x1="180.72" y1="641.9" x2="180.72" y2="643.7" stroke="#231f20" stroke-width="0.9"/>
<line x1="182.39" y1="641.9" x2="182.39" y2="643.7" stroke="#231f20" stroke-width="0.9"/>
<line x1="183.76" y1="641.9" x2="183.76" y2="643.7" stroke="#231f20" stroke-width="0.9"/>
<line x1="184.92" y1="641.9" x2="184.92" y2="643.7" stroke="#231f20" stroke-width="0.9"/>
<line x1="185.92" y1="641.9" x2="185.92" y2="643.7" stroke="#231f20" stroke-width="0.9"/>
<line x1="186.81" y1="641.9" x2="186.81" y2="643.7" stroke="#231f20" stroke-width="0.9"/>
<line x1="187.6" y1="641.9" x2="187.6" y2="644.9" stroke="#231f20" stroke-width="1.1"/>
<line x1="192.81" y1="641.9" x2="192.81" y2="643.7" stroke="#231f20" stroke-width="0.9"/>
<line x1="195.85" y1="641.9" x2="195.85" y2="643.7" stroke="#231f20" stroke-width="0.9"/>
<line x1="198.02" y1="641.9" x2="198.02" y2="643.7" stroke="#231f20" stroke-width="0.9"/>
<line x1="199.69" y1="641.9" x2="199.69" y2="643.7" stroke="#231f20" stroke-width="0.9"/>
<line x1="201.06" y1="641.9" x2="201.06" y2="643.7" stroke="#231f20" stroke-width="0.9"/>
<line x1="202.22" y1="641.9" x2="202.22" y2="643.7" stroke="#231f20" stroke-width="0.9"/>
<line x1="203.22" y1="641.9" x2="203.22" y2="643.7" stroke="#231f20" stroke-width="0.9"/>
<line x1="204.11" y1="641.9" x2="204.11" y2="643.7" stroke="#231f20" stroke-width="0.9"/>
<line x1="204.9" y1="641.9" x2="204.9" y2="644.9" stroke="#231f20" stroke-width="1.1"/>
<line x1="210.11" y1="641.9" x2="210.11" y2="643.7" stroke="#231f20" stroke-width="0.9"/>
<line x1="213.15" y1="641.9" x2="213.15" y2="643.7" stroke="#231f20" stroke-width="0.9"/>
<line x1="215.32" y1="641.9" x2="215.32" y2="643.7" stroke="#231f20" stroke-width="0.9"/>
<line x1="216.99" y1="641.9" x2="216.99" y2="643.7" stroke="#231f20" stroke-width="0.9"/>
<line x1="218.36" y1="641.9" x2="218.36" y2="643.7" stroke="#231f20" stroke-width="0.9"/>
<line x1="219.52" y1="641.9" x2="219.52" y2="643.7" stroke="#231f20" stroke-width="0.9"/>
<line x1="220.52" y1="641.9" x2="220.52" y2="643.7" stroke="#231f20" stroke-width="0.9"/>
<line x1="221.41" y1="641.9" x2="221.41" y2="643.7" stroke="#231f20" stroke-width="0.9"/>
<line x1="222.2" y1="641.9" x2="222.2" y2="644.9" stroke="#231f20" stroke-width="1.1"/>
<line x1="227.41" y1="641.9" x2="227.41" y2="643.7" stroke="#231f20" stroke-width="0.9"/>
<text x="141" y="655.8" font-size="7.6" text-anchor="middle">10<tspan font-size="4.8" dy="-3.2">0</tspan></text>
<text x="153.4" y="655.8" font-size="7.6" text-anchor="middle">10<tspan font-size="4.8" dy="-3.2">1</tspan></text>
<text x="170.7" y="655.8" font-size="7.6" text-anchor="middle">10<tspan font-size="4.8" dy="-3.2">2</tspan></text>
<text x="188" y="655.8" font-size="7.6" text-anchor="middle">10<tspan font-size="4.8" dy="-3.2">3</tspan></text>
<text x="205.3" y="655.8" font-size="7.6" text-anchor="middle">10<tspan font-size="4.8" dy="-3.2">4</tspan></text>
<text x="220.7" y="655.8" font-size="7.6" text-anchor="middle">10<tspan font-size="4.8" dy="-3.2">5</tspan></text>
<line x1="230.17" y1="641.9" x2="230.17" y2="644.9" stroke="#231f20" stroke-width="1.1"/>
<line x1="235.38" y1="641.9" x2="235.38" y2="643.7" stroke="#231f20" stroke-width="0.9"/>
<line x1="238.42" y1="641.9" x2="238.42" y2="643.7" stroke="#231f20" stroke-width="0.9"/>
<line x1="240.59" y1="641.9" x2="240.59" y2="643.7" stroke="#231f20" stroke-width="0.9"/>
<line x1="242.26" y1="641.9" x2="242.26" y2="643.7" stroke="#231f20" stroke-width="0.9"/>
<line x1="243.63" y1="641.9" x2="243.63" y2="643.7" stroke="#231f20" stroke-width="0.9"/>
<line x1="244.79" y1="641.9" x2="244.79" y2="643.7" stroke="#231f20" stroke-width="0.9"/>
<line x1="245.79" y1="641.9" x2="245.79" y2="643.7" stroke="#231f20" stroke-width="0.9"/>
<line x1="246.68" y1="641.9" x2="246.68" y2="643.7" stroke="#231f20" stroke-width="0.9"/>
<line x1="247.47" y1="641.9" x2="247.47" y2="644.9" stroke="#231f20" stroke-width="1.1"/>
<line x1="252.68" y1="641.9" x2="252.68" y2="643.7" stroke="#231f20" stroke-width="0.9"/>
<line x1="255.72" y1="641.9" x2="255.72" y2="643.7" stroke="#231f20" stroke-width="0.9"/>
<line x1="257.89" y1="641.9" x2="257.89" y2="643.7" stroke="#231f20" stroke-width="0.9"/>
<line x1="259.56" y1="641.9" x2="259.56" y2="643.7" stroke="#231f20" stroke-width="0.9"/>
<line x1="260.93" y1="641.9" x2="260.93" y2="643.7" stroke="#231f20" stroke-width="0.9"/>
<line x1="262.09" y1="641.9" x2="262.09" y2="643.7" stroke="#231f20" stroke-width="0.9"/>
<line x1="263.09" y1="641.9" x2="263.09" y2="643.7" stroke="#231f20" stroke-width="0.9"/>
<line x1="263.98" y1="641.9" x2="263.98" y2="643.7" stroke="#231f20" stroke-width="0.9"/>
<line x1="264.77" y1="641.9" x2="264.77" y2="644.9" stroke="#231f20" stroke-width="1.1"/>
<line x1="269.98" y1="641.9" x2="269.98" y2="643.7" stroke="#231f20" stroke-width="0.9"/>
<line x1="273.02" y1="641.9" x2="273.02" y2="643.7" stroke="#231f20" stroke-width="0.9"/>
<line x1="275.19" y1="641.9" x2="275.19" y2="643.7" stroke="#231f20" stroke-width="0.9"/>
<line x1="276.86" y1="641.9" x2="276.86" y2="643.7" stroke="#231f20" stroke-width="0.9"/>
<line x1="278.23" y1="641.9" x2="278.23" y2="643.7" stroke="#231f20" stroke-width="0.9"/>
<line x1="279.39" y1="641.9" x2="279.39" y2="643.7" stroke="#231f20" stroke-width="0.9"/>
<line x1="280.39" y1="641.9" x2="280.39" y2="643.7" stroke="#231f20" stroke-width="0.9"/>
<line x1="281.28" y1="641.9" x2="281.28" y2="643.7" stroke="#231f20" stroke-width="0.9"/>
<line x1="282.07" y1="641.9" x2="282.07" y2="644.9" stroke="#231f20" stroke-width="1.1"/>
<line x1="287.28" y1="641.9" x2="287.28" y2="643.7" stroke="#231f20" stroke-width="0.9"/>
<line x1="290.32" y1="641.9" x2="290.32" y2="643.7" stroke="#231f20" stroke-width="0.9"/>
<line x1="292.49" y1="641.9" x2="292.49" y2="643.7" stroke="#231f20" stroke-width="0.9"/>
<line x1="294.16" y1="641.9" x2="294.16" y2="643.7" stroke="#231f20" stroke-width="0.9"/>
<line x1="295.53" y1="641.9" x2="295.53" y2="643.7" stroke="#231f20" stroke-width="0.9"/>
<line x1="296.69" y1="641.9" x2="296.69" y2="643.7" stroke="#231f20" stroke-width="0.9"/>
<line x1="297.69" y1="641.9" x2="297.69" y2="643.7" stroke="#231f20" stroke-width="0.9"/>
<line x1="298.58" y1="641.9" x2="298.58" y2="643.7" stroke="#231f20" stroke-width="0.9"/>
<line x1="299.37" y1="641.9" x2="299.37" y2="644.9" stroke="#231f20" stroke-width="1.1"/>
<line x1="304.58" y1="641.9" x2="304.58" y2="643.7" stroke="#231f20" stroke-width="0.9"/>
<line x1="307.62" y1="641.9" x2="307.62" y2="643.7" stroke="#231f20" stroke-width="0.9"/>
<line x1="309.79" y1="641.9" x2="309.79" y2="643.7" stroke="#231f20" stroke-width="0.9"/>
<line x1="311.46" y1="641.9" x2="311.46" y2="643.7" stroke="#231f20" stroke-width="0.9"/>
<line x1="312.83" y1="641.9" x2="312.83" y2="643.7" stroke="#231f20" stroke-width="0.9"/>
<line x1="313.99" y1="641.9" x2="313.99" y2="643.7" stroke="#231f20" stroke-width="0.9"/>
<line x1="314.99" y1="641.9" x2="314.99" y2="643.7" stroke="#231f20" stroke-width="0.9"/>
<line x1="315.88" y1="641.9" x2="315.88" y2="643.7" stroke="#231f20" stroke-width="0.9"/>
<line x1="316.67" y1="641.9" x2="316.67" y2="644.9" stroke="#231f20" stroke-width="1.1"/>
<line x1="321.88" y1="641.9" x2="321.88" y2="643.7" stroke="#231f20" stroke-width="0.9"/>
<text x="235.47" y="655.8" font-size="7.6" text-anchor="middle">10<tspan font-size="4.8" dy="-3.2">0</tspan></text>
<text x="247.87" y="655.8" font-size="7.6" text-anchor="middle">10<tspan font-size="4.8" dy="-3.2">1</tspan></text>
<text x="265.17" y="655.8" font-size="7.6" text-anchor="middle">10<tspan font-size="4.8" dy="-3.2">2</tspan></text>
<text x="282.47" y="655.8" font-size="7.6" text-anchor="middle">10<tspan font-size="4.8" dy="-3.2">3</tspan></text>
<text x="299.77" y="655.8" font-size="7.6" text-anchor="middle">10<tspan font-size="4.8" dy="-3.2">4</tspan></text>
<text x="315.17" y="655.8" font-size="7.6" text-anchor="middle">10<tspan font-size="4.8" dy="-3.2">5</tspan></text>
<line x1="323.85" y1="641.9" x2="323.85" y2="644.9" stroke="#231f20" stroke-width="1.1"/>
<line x1="329.06" y1="641.9" x2="329.06" y2="643.7" stroke="#231f20" stroke-width="0.9"/>
<line x1="332.1" y1="641.9" x2="332.1" y2="643.7" stroke="#231f20" stroke-width="0.9"/>
<line x1="334.27" y1="641.9" x2="334.27" y2="643.7" stroke="#231f20" stroke-width="0.9"/>
<line x1="335.94" y1="641.9" x2="335.94" y2="643.7" stroke="#231f20" stroke-width="0.9"/>
<line x1="337.31" y1="641.9" x2="337.31" y2="643.7" stroke="#231f20" stroke-width="0.9"/>
<line x1="338.47" y1="641.9" x2="338.47" y2="643.7" stroke="#231f20" stroke-width="0.9"/>
<line x1="339.47" y1="641.9" x2="339.47" y2="643.7" stroke="#231f20" stroke-width="0.9"/>
<line x1="340.36" y1="641.9" x2="340.36" y2="643.7" stroke="#231f20" stroke-width="0.9"/>
<line x1="341.15" y1="641.9" x2="341.15" y2="644.9" stroke="#231f20" stroke-width="1.1"/>
<line x1="346.36" y1="641.9" x2="346.36" y2="643.7" stroke="#231f20" stroke-width="0.9"/>
<line x1="349.4" y1="641.9" x2="349.4" y2="643.7" stroke="#231f20" stroke-width="0.9"/>
<line x1="351.57" y1="641.9" x2="351.57" y2="643.7" stroke="#231f20" stroke-width="0.9"/>
<line x1="353.24" y1="641.9" x2="353.24" y2="643.7" stroke="#231f20" stroke-width="0.9"/>
<line x1="354.61" y1="641.9" x2="354.61" y2="643.7" stroke="#231f20" stroke-width="0.9"/>
<line x1="355.77" y1="641.9" x2="355.77" y2="643.7" stroke="#231f20" stroke-width="0.9"/>
<line x1="356.77" y1="641.9" x2="356.77" y2="643.7" stroke="#231f20" stroke-width="0.9"/>
<line x1="357.66" y1="641.9" x2="357.66" y2="643.7" stroke="#231f20" stroke-width="0.9"/>
<line x1="358.45" y1="641.9" x2="358.45" y2="644.9" stroke="#231f20" stroke-width="1.1"/>
<line x1="363.66" y1="641.9" x2="363.66" y2="643.7" stroke="#231f20" stroke-width="0.9"/>
<line x1="366.7" y1="641.9" x2="366.7" y2="643.7" stroke="#231f20" stroke-width="0.9"/>
<line x1="368.87" y1="641.9" x2="368.87" y2="643.7" stroke="#231f20" stroke-width="0.9"/>
<line x1="370.54" y1="641.9" x2="370.54" y2="643.7" stroke="#231f20" stroke-width="0.9"/>
<line x1="371.91" y1="641.9" x2="371.91" y2="643.7" stroke="#231f20" stroke-width="0.9"/>
<line x1="373.07" y1="641.9" x2="373.07" y2="643.7" stroke="#231f20" stroke-width="0.9"/>
<line x1="374.07" y1="641.9" x2="374.07" y2="643.7" stroke="#231f20" stroke-width="0.9"/>
<line x1="374.96" y1="641.9" x2="374.96" y2="643.7" stroke="#231f20" stroke-width="0.9"/>
<line x1="375.75" y1="641.9" x2="375.75" y2="644.9" stroke="#231f20" stroke-width="1.1"/>
<line x1="380.96" y1="641.9" x2="380.96" y2="643.7" stroke="#231f20" stroke-width="0.9"/>
<line x1="384" y1="641.9" x2="384" y2="643.7" stroke="#231f20" stroke-width="0.9"/>
<line x1="386.17" y1="641.9" x2="386.17" y2="643.7" stroke="#231f20" stroke-width="0.9"/>
<line x1="387.84" y1="641.9" x2="387.84" y2="643.7" stroke="#231f20" stroke-width="0.9"/>
<line x1="389.21" y1="641.9" x2="389.21" y2="643.7" stroke="#231f20" stroke-width="0.9"/>
<line x1="390.37" y1="641.9" x2="390.37" y2="643.7" stroke="#231f20" stroke-width="0.9"/>
<line x1="391.37" y1="641.9" x2="391.37" y2="643.7" stroke="#231f20" stroke-width="0.9"/>
<line x1="392.26" y1="641.9" x2="392.26" y2="643.7" stroke="#231f20" stroke-width="0.9"/>
<line x1="393.05" y1="641.9" x2="393.05" y2="644.9" stroke="#231f20" stroke-width="1.1"/>
<line x1="398.26" y1="641.9" x2="398.26" y2="643.7" stroke="#231f20" stroke-width="0.9"/>
<line x1="401.3" y1="641.9" x2="401.3" y2="643.7" stroke="#231f20" stroke-width="0.9"/>
<line x1="403.47" y1="641.9" x2="403.47" y2="643.7" stroke="#231f20" stroke-width="0.9"/>
<line x1="405.14" y1="641.9" x2="405.14" y2="643.7" stroke="#231f20" stroke-width="0.9"/>
<line x1="406.51" y1="641.9" x2="406.51" y2="643.7" stroke="#231f20" stroke-width="0.9"/>
<line x1="407.67" y1="641.9" x2="407.67" y2="643.7" stroke="#231f20" stroke-width="0.9"/>
<line x1="408.67" y1="641.9" x2="408.67" y2="643.7" stroke="#231f20" stroke-width="0.9"/>
<line x1="409.56" y1="641.9" x2="409.56" y2="643.7" stroke="#231f20" stroke-width="0.9"/>
<line x1="410.35" y1="641.9" x2="410.35" y2="644.9" stroke="#231f20" stroke-width="1.1"/>
<line x1="415.56" y1="641.9" x2="415.56" y2="643.7" stroke="#231f20" stroke-width="0.9"/>
<text x="329.15" y="655.8" font-size="7.6" text-anchor="middle">10<tspan font-size="4.8" dy="-3.2">0</tspan></text>
<text x="341.55" y="655.8" font-size="7.6" text-anchor="middle">10<tspan font-size="4.8" dy="-3.2">1</tspan></text>
<text x="358.85" y="655.8" font-size="7.6" text-anchor="middle">10<tspan font-size="4.8" dy="-3.2">2</tspan></text>
<text x="376.15" y="655.8" font-size="7.6" text-anchor="middle">10<tspan font-size="4.8" dy="-3.2">3</tspan></text>
<text x="393.45" y="655.8" font-size="7.6" text-anchor="middle">10<tspan font-size="4.8" dy="-3.2">4</tspan></text>
<text x="408.85" y="655.8" font-size="7.6" text-anchor="middle">10<tspan font-size="4.8" dy="-3.2">5</tspan></text>
<line x1="417.9" y1="641.9" x2="417.9" y2="644.9" stroke="#231f20" stroke-width="1.1"/>
<line x1="423.11" y1="641.9" x2="423.11" y2="643.7" stroke="#231f20" stroke-width="0.9"/>
<line x1="426.15" y1="641.9" x2="426.15" y2="643.7" stroke="#231f20" stroke-width="0.9"/>
<line x1="428.32" y1="641.9" x2="428.32" y2="643.7" stroke="#231f20" stroke-width="0.9"/>
<line x1="429.99" y1="641.9" x2="429.99" y2="643.7" stroke="#231f20" stroke-width="0.9"/>
<line x1="431.36" y1="641.9" x2="431.36" y2="643.7" stroke="#231f20" stroke-width="0.9"/>
<line x1="432.52" y1="641.9" x2="432.52" y2="643.7" stroke="#231f20" stroke-width="0.9"/>
<line x1="433.52" y1="641.9" x2="433.52" y2="643.7" stroke="#231f20" stroke-width="0.9"/>
<line x1="434.41" y1="641.9" x2="434.41" y2="643.7" stroke="#231f20" stroke-width="0.9"/>
<line x1="435.2" y1="641.9" x2="435.2" y2="644.9" stroke="#231f20" stroke-width="1.1"/>
<line x1="440.41" y1="641.9" x2="440.41" y2="643.7" stroke="#231f20" stroke-width="0.9"/>
<line x1="443.45" y1="641.9" x2="443.45" y2="643.7" stroke="#231f20" stroke-width="0.9"/>
<line x1="445.62" y1="641.9" x2="445.62" y2="643.7" stroke="#231f20" stroke-width="0.9"/>
<line x1="447.29" y1="641.9" x2="447.29" y2="643.7" stroke="#231f20" stroke-width="0.9"/>
<line x1="448.66" y1="641.9" x2="448.66" y2="643.7" stroke="#231f20" stroke-width="0.9"/>
<line x1="449.82" y1="641.9" x2="449.82" y2="643.7" stroke="#231f20" stroke-width="0.9"/>
<line x1="450.82" y1="641.9" x2="450.82" y2="643.7" stroke="#231f20" stroke-width="0.9"/>
<line x1="451.71" y1="641.9" x2="451.71" y2="643.7" stroke="#231f20" stroke-width="0.9"/>
<line x1="452.5" y1="641.9" x2="452.5" y2="644.9" stroke="#231f20" stroke-width="1.1"/>
<line x1="457.71" y1="641.9" x2="457.71" y2="643.7" stroke="#231f20" stroke-width="0.9"/>
<line x1="460.75" y1="641.9" x2="460.75" y2="643.7" stroke="#231f20" stroke-width="0.9"/>
<line x1="462.92" y1="641.9" x2="462.92" y2="643.7" stroke="#231f20" stroke-width="0.9"/>
<line x1="464.59" y1="641.9" x2="464.59" y2="643.7" stroke="#231f20" stroke-width="0.9"/>
<line x1="465.96" y1="641.9" x2="465.96" y2="643.7" stroke="#231f20" stroke-width="0.9"/>
<line x1="467.12" y1="641.9" x2="467.12" y2="643.7" stroke="#231f20" stroke-width="0.9"/>
<line x1="468.12" y1="641.9" x2="468.12" y2="643.7" stroke="#231f20" stroke-width="0.9"/>
<line x1="469.01" y1="641.9" x2="469.01" y2="643.7" stroke="#231f20" stroke-width="0.9"/>
<line x1="469.8" y1="641.9" x2="469.8" y2="644.9" stroke="#231f20" stroke-width="1.1"/>
<line x1="475.01" y1="641.9" x2="475.01" y2="643.7" stroke="#231f20" stroke-width="0.9"/>
<line x1="478.05" y1="641.9" x2="478.05" y2="643.7" stroke="#231f20" stroke-width="0.9"/>
<line x1="480.22" y1="641.9" x2="480.22" y2="643.7" stroke="#231f20" stroke-width="0.9"/>
<line x1="481.89" y1="641.9" x2="481.89" y2="643.7" stroke="#231f20" stroke-width="0.9"/>
<line x1="483.26" y1="641.9" x2="483.26" y2="643.7" stroke="#231f20" stroke-width="0.9"/>
<line x1="484.42" y1="641.9" x2="484.42" y2="643.7" stroke="#231f20" stroke-width="0.9"/>
<line x1="485.42" y1="641.9" x2="485.42" y2="643.7" stroke="#231f20" stroke-width="0.9"/>
<line x1="486.31" y1="641.9" x2="486.31" y2="643.7" stroke="#231f20" stroke-width="0.9"/>
<line x1="487.1" y1="641.9" x2="487.1" y2="644.9" stroke="#231f20" stroke-width="1.1"/>
<line x1="492.31" y1="641.9" x2="492.31" y2="643.7" stroke="#231f20" stroke-width="0.9"/>
<line x1="495.35" y1="641.9" x2="495.35" y2="643.7" stroke="#231f20" stroke-width="0.9"/>
<line x1="497.52" y1="641.9" x2="497.52" y2="643.7" stroke="#231f20" stroke-width="0.9"/>
<line x1="499.19" y1="641.9" x2="499.19" y2="643.7" stroke="#231f20" stroke-width="0.9"/>
<line x1="500.56" y1="641.9" x2="500.56" y2="643.7" stroke="#231f20" stroke-width="0.9"/>
<line x1="501.72" y1="641.9" x2="501.72" y2="643.7" stroke="#231f20" stroke-width="0.9"/>
<line x1="502.72" y1="641.9" x2="502.72" y2="643.7" stroke="#231f20" stroke-width="0.9"/>
<line x1="503.61" y1="641.9" x2="503.61" y2="643.7" stroke="#231f20" stroke-width="0.9"/>
<line x1="504.4" y1="641.9" x2="504.4" y2="644.9" stroke="#231f20" stroke-width="1.1"/>
<line x1="509.61" y1="641.9" x2="509.61" y2="643.7" stroke="#231f20" stroke-width="0.9"/>
<text x="423.2" y="655.8" font-size="7.6" text-anchor="middle">10<tspan font-size="4.8" dy="-3.2">0</tspan></text>
<text x="435.6" y="655.8" font-size="7.6" text-anchor="middle">10<tspan font-size="4.8" dy="-3.2">1</tspan></text>
<text x="452.9" y="655.8" font-size="7.6" text-anchor="middle">10<tspan font-size="4.8" dy="-3.2">2</tspan></text>
<text x="470.2" y="655.8" font-size="7.6" text-anchor="middle">10<tspan font-size="4.8" dy="-3.2">3</tspan></text>
<text x="487.5" y="655.8" font-size="7.6" text-anchor="middle">10<tspan font-size="4.8" dy="-3.2">4</tspan></text>
<text x="502.9" y="655.8" font-size="7.6" text-anchor="middle">10<tspan font-size="4.8" dy="-3.2">5</tspan></text>
<text x="0" y="0" font-size="10" text-anchor="middle" textLength="24.8" lengthAdjust="spacingAndGlyphs" transform="translate(15.7,603.3) rotate(-90)">Count</text>
<path d="M104.3,641.9 L104.3,641.1 L104.7,640.59 L105.1,639.83 L105.5,638.72 L105.9,637.15 L106.3,634.99 L106.7,632.12 L107.1,628.43 L107.5,623.87 L107.9,618.43 L108.3,612.18 L108.7,605.29 L109.1,598.05 L109.5,590.81 L109.9,584.01 L110.3,578.1 L110.7,573.51 L111.1,570.6 L111.5,569.6 L111.9,570.1 L112.3,571.57 L112.7,573.97 L113.1,577.18 L113.5,581.09 L113.9,585.54 L114.3,590.39 L114.7,595.47 L115.1,600.62 L115.5,605.71 L115.9,610.61 L116.3,615.21 L116.7,619.45 L117.1,623.28 L117.5,626.66 L117.9,629.6 L118.3,632.12 L118.7,634.22 L119.1,635.95 L119.5,637.36 L119.9,638.48 L120.3,639.36 L120.7,640.04 L121.1,640.56 L121.5,640.94 L121.5,641.9 Z" fill="#cf8e80" stroke="#b0073a" stroke-width="1.25" stroke-linejoin="round"/>
<path d="M196.3,641.9 L196.3,641.12 L196.7,640.71 L197.1,640.12 L197.5,639.3 L197.9,638.17 L198.3,636.66 L198.7,634.7 L199.1,632.2 L199.5,629.1 L199.9,625.36 L200.3,620.98 L200.7,615.98 L201.1,610.45 L201.5,604.53 L201.9,598.42 L202.3,592.35 L202.7,586.6 L203.1,581.47 L203.5,577.22 L203.9,574.11 L204.3,572.31 L204.7,571.94 L205.1,572.84 L205.5,574.91 L205.9,578.04 L206.3,582.07 L206.7,586.82 L207.1,592.06 L207.5,597.58 L207.9,603.17 L208.3,608.63 L208.7,613.82 L209.1,618.61 L209.5,622.91 L209.9,626.69 L210.3,629.92 L210.7,632.63 L211.1,634.85 L211.5,636.63 L211.9,638.03 L212.3,639.11 L212.7,639.92 L213.1,640.52 L213.5,640.95 L213.5,641.9 Z" fill="#cf8e80" stroke="#b0073a" stroke-width="1.25" stroke-linejoin="round"/>
<path d="M291.2,641.9 L291.2,641.1 L291.6,640.67 L292,640.04 L292.4,639.15 L292.8,637.94 L293.2,636.3 L293.6,634.16 L294,631.43 L294.4,628.05 L294.8,623.97 L295.2,619.2 L295.6,613.78 L296,607.83 L296.4,601.51 L296.8,595.07 L297.2,588.77 L297.6,582.93 L298,577.87 L298.4,573.89 L298.8,571.22 L299.2,570.05 L299.6,570.28 L300,571.51 L300.4,573.67 L300.8,576.67 L301.2,580.39 L301.6,584.7 L302,589.44 L302.4,594.45 L302.8,599.57 L303.2,604.66 L303.6,609.58 L304,614.24 L304.4,618.56 L304.8,622.47 L305.2,625.95 L305.6,628.98 L306,631.58 L306.4,633.78 L306.8,635.59 L307.2,637.06 L307.6,638.25 L308,639.18 L308.4,639.9 L308.8,640.45 L309.2,640.86 L309.2,641.9 Z" fill="#cf8e80" stroke="#b0073a" stroke-width="1.25" stroke-linejoin="round"/>
<path d="M381.3,641.9 L381.3,641.13 L381.7,640.82 L382.1,640.42 L382.5,639.88 L382.9,639.19 L383.3,638.31 L383.7,637.2 L384.1,635.83 L384.5,634.16 L384.9,632.15 L385.3,629.77 L385.7,627.01 L386.1,623.86 L386.5,620.31 L386.9,616.4 L387.3,612.16 L387.7,607.66 L388.1,602.98 L388.5,598.22 L388.9,593.5 L389.3,588.96 L389.7,584.73 L390.1,580.95 L390.5,577.74 L390.9,575.22 L391.3,573.49 L391.7,572.61 L392.1,572.64 L392.5,573.71 L392.9,575.81 L393.3,578.83 L393.7,582.65 L394.1,587.11 L394.5,592.01 L394.9,597.18 L395.3,602.43 L395.7,607.61 L396.1,612.57 L396.5,617.2 L396.9,621.43 L397.3,625.19 L397.7,628.47 L398.1,631.28 L398.5,633.63 L398.9,635.56 L399.3,637.11 L399.7,638.34 L400.1,639.3 L400.5,640.03 L400.9,640.57 L401.3,640.97 L401.3,641.9 Z" fill="#cf8e80" stroke="#b0073a" stroke-width="1.25" stroke-linejoin="round"/>
<path d="M435.4,641.9 L435.4,641.9 C435.71,641.66 437.76,639.86 438.5,639.5 C439.24,639.14 442.05,638.35 442.8,638.3 C443.55,638.25 445.37,638.89 446,639 C446.63,639.11 448.5,639.4 449.1,639.4 C449.7,639.4 451.47,639.05 452,639 C452.53,638.95 453.9,638.95 454.4,638.9 C454.9,638.85 456.47,638.62 457,638.5 C457.53,638.38 459.22,637.7 459.7,637.7 C460.18,637.7 461.38,638.44 461.8,638.5 C462.22,638.56 463.48,638.5 463.9,638.3 C464.32,638.1 465.58,636.92 466,636.5 C466.42,636.08 467.67,634.45 468.1,634.1 C468.53,633.75 469.94,633.32 470.3,633 C470.66,632.68 471.45,631.5 471.7,630.9 C471.95,630.3 472.59,627.74 472.8,627 C473.01,626.26 473.61,623.4 473.8,623.5 C473.99,623.6 474.53,627.15 474.7,628 C474.87,628.85 475.22,632.8 475.5,632 C475.78,631.2 477.17,622.9 477.5,620 C477.83,617.1 478.57,605.4 478.8,603 C479.03,600.6 479.59,595.3 479.8,596 C480.01,596.7 480.69,606.72 480.9,610 C481.11,613.28 481.63,628.8 481.9,628.8 C482.17,628.8 483.33,613.88 483.6,610 C483.87,606.12 484.43,593.15 484.6,590 C484.77,586.85 485.13,578 485.3,578.5 C485.47,579 486.05,589.97 486.3,595 C486.55,600.03 487.44,624.89 487.8,628.8 C488.16,632.71 489.46,633.1 489.9,634.1 C490.34,635.1 491.73,638.02 492.2,638.8 C492.67,639.58 494.36,641.59 494.6,641.9 L494.6,641.9 Z" fill="#cf8e80" stroke="#b0073a" stroke-width="1.25" stroke-linejoin="round"/>
<line x1="57.2" y1="589.9" x2="106.7" y2="589.9" stroke="#231f20" stroke-width="1.25"/>
<line x1="106.7" y1="588.3" x2="106.7" y2="591.5" stroke="#231f20" stroke-width="1.25"/>
<line x1="57.2" y1="588.3" x2="57.2" y2="591.5" stroke="#231f20" stroke-width="1.25"/>
<text x="82.2" y="588" font-size="6.8" text-anchor="middle">2.16</text>
<line x1="151.2" y1="589.9" x2="201.5" y2="589.9" stroke="#231f20" stroke-width="1.25"/>
<line x1="201.5" y1="588.3" x2="201.5" y2="591.5" stroke="#231f20" stroke-width="1.25"/>
<line x1="151.2" y1="588.3" x2="151.2" y2="591.5" stroke="#231f20" stroke-width="1.25"/>
<text x="176.2" y="588" font-size="6.8" text-anchor="middle">13.1</text>
<line x1="245.5" y1="589.9" x2="295.1" y2="589.9" stroke="#231f20" stroke-width="1.25"/>
<line x1="295.1" y1="588.3" x2="295.1" y2="591.5" stroke="#231f20" stroke-width="1.25"/>
<line x1="245.5" y1="588.3" x2="245.5" y2="591.5" stroke="#231f20" stroke-width="1.25"/>
<text x="270.1" y="588" font-size="6.8" text-anchor="middle">6.29</text>
<line x1="339" y1="589.9" x2="389" y2="589.9" stroke="#231f20" stroke-width="1.25"/>
<line x1="389" y1="588.3" x2="389" y2="591.5" stroke="#231f20" stroke-width="1.25"/>
<line x1="339" y1="588.3" x2="339" y2="591.5" stroke="#231f20" stroke-width="1.25"/>
<text x="364" y="588" font-size="6.8" text-anchor="middle">13.4</text>
<line x1="436.4" y1="589.9" x2="486.1" y2="589.9" stroke="#231f20" stroke-width="1.25"/>
<line x1="486.1" y1="588.3" x2="486.1" y2="591.5" stroke="#231f20" stroke-width="1.25"/>
<line x1="436.4" y1="588.3" x2="436.4" y2="591.5" stroke="#231f20" stroke-width="1.25"/>
<text x="461.4" y="588" font-size="6.8" text-anchor="middle">81.9</text>
<text x="70.1" y="669.2" font-size="10.3" textLength="19.7" lengthAdjust="spacingAndGlyphs">CFSE</text>
<line x1="93.2" y1="666.2" x2="452.9" y2="666.2" stroke="#231f20" stroke-width="1.5"/>
<path d="M461.3,666.2 L450.9,662 L453.3,666.2 L450.9,670.4 Z" fill="#231f20"/>
</svg>
</body></html>
